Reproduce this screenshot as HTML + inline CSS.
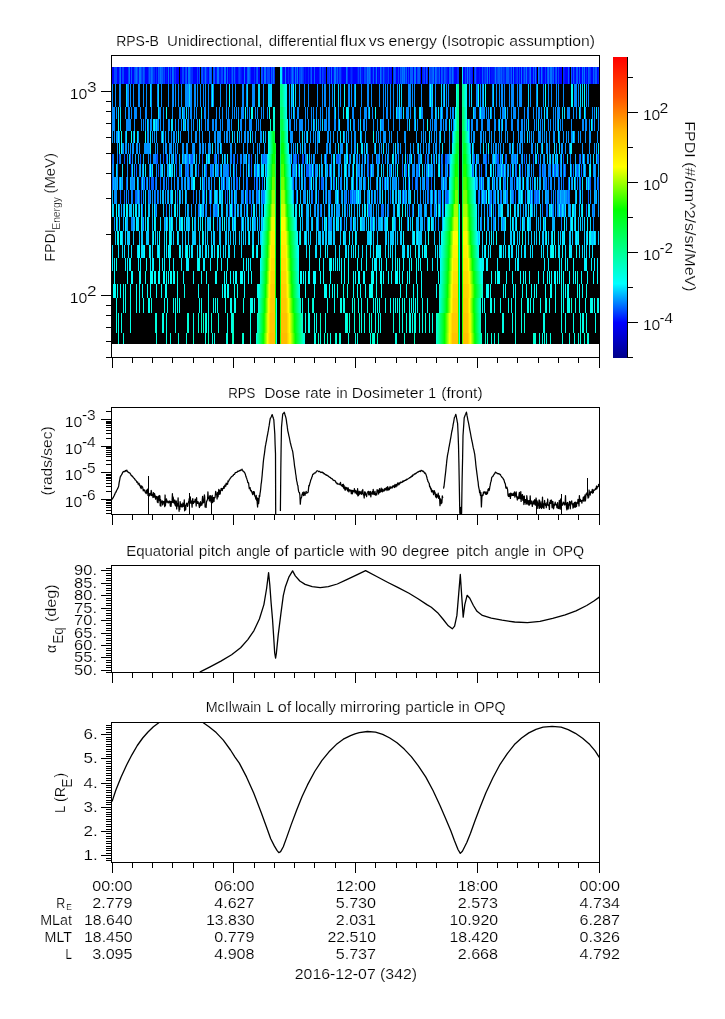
<!DOCTYPE html>
<html><head><meta charset="utf-8"><title>RPS-B</title>
<style>
html,body{margin:0;padding:0;background:#fff;}
svg{display:block;will-change:transform;}
svg{font-family:"Liberation Sans",sans-serif;font-size:14.5px;}
text{fill:#000;stroke:#fff;stroke-width:0.18px;}
</style></head><body>
<svg width="725" height="1019" viewBox="0 0 725 1019">
<rect x="0" y="0" width="725" height="1019" fill="#fff"/>
<rect x="112" y="67" width="487" height="277" fill="#000"/>
<g shape-rendering="crispEdges">
<path fill="#0000ff" d="M112 67h2v17h-2zM117 67h2v17h-2zM121 67h1v17h-1zM124 67h4v17h-4zM130 67h1v17h-1zM132 67h2v17h-2zM145 67h3v17h-3zM155 67h1v17h-1zM157 67h1v17h-1zM165 67h1v17h-1zM167 67h1v17h-1zM169 67h1v17h-1zM171 67h1v17h-1zM176 67h3v17h-3zM180 67h2v17h-2zM184 67h1v17h-1zM187 67h1v17h-1zM193 67h4v17h-4zM198 67h1v17h-1zM208 67h1v17h-1zM215 67h1v17h-1zM223 67h1v17h-1zM226 67h1v17h-1zM228 67h1v17h-1zM230 67h1v17h-1zM236 67h2v17h-2zM242 67h2v17h-2zM245 67h2v17h-2zM251 67h3v17h-3zM255 67h1v17h-1zM258 67h2v17h-2zM263 67h1v17h-1zM270 67h1v17h-1zM283 67h2v17h-2zM286 67h2v17h-2zM289 67h1v17h-1zM294 67h1v17h-1zM298 67h1v17h-1zM304 67h1v17h-1zM306 67h2v17h-2zM309 67h1v17h-1zM312 67h2v17h-2zM315 67h4v17h-4zM321 67h1v17h-1zM330 67h1v17h-1zM332 67h1v17h-1zM342 67h4v17h-4zM348 67h2v17h-2zM353 67h4v17h-4zM363 67h1v17h-1zM371 67h1v17h-1zM374 67h1v17h-1zM377 67h1v17h-1zM379 67h1v17h-1zM389 67h1v17h-1zM391 67h1v17h-1zM396 67h2v17h-2zM399 67h1v17h-1zM407 67h1v17h-1zM409 67h1v17h-1zM413 67h1v17h-1zM416 67h1v17h-1zM420 67h1v17h-1zM425 67h1v17h-1zM440 67h1v17h-1zM448 67h1v17h-1zM454 67h3v17h-3zM463 67h2v17h-2zM472 67h1v17h-1zM477 67h2v17h-2zM480 67h2v17h-2zM488 67h1v17h-1zM490 67h1v17h-1zM512 67h1v17h-1zM514 67h1v17h-1zM518 67h1v17h-1zM520 67h1v17h-1zM522 67h1v17h-1zM531 67h2v17h-2zM536 67h1v17h-1zM540 67h1v17h-1zM543 67h2v17h-2zM546 67h1v17h-1zM554 67h1v17h-1zM557 67h1v17h-1zM559 67h3v17h-3zM565 67h3v17h-3zM569 67h1v17h-1zM572 67h1v17h-1zM575 67h1v17h-1zM578 67h1v17h-1zM580 67h2v17h-2zM585 67h1v17h-1zM587 67h1v17h-1zM591 67h2v17h-2zM597 67h1v17h-1z"/>
<path fill="#0046ff" d="M114 67h3v17h-3zM119 67h1v17h-1zM122 67h2v17h-2zM128 67h1v17h-1zM134 67h1v17h-1zM137 67h1v17h-1zM141 67h1v17h-1zM144 67h1v17h-1zM150 67h1v17h-1zM159 67h1v17h-1zM164 67h1v17h-1zM170 67h1v17h-1zM182 67h2v17h-2zM185 67h1v17h-1zM190 67h1v17h-1zM197 67h1v17h-1zM199 67h1v17h-1zM201 67h1v17h-1zM211 67h1v17h-1zM213 67h1v17h-1zM221 67h2v17h-2zM239 67h1v17h-1zM256 67h1v17h-1zM262 67h1v17h-1zM267 67h3v17h-3zM282 67h1v17h-1zM291 67h1v17h-1zM293 67h1v17h-1zM299 67h2v17h-2zM302 67h1v17h-1zM322 67h1v17h-1zM329 67h1v17h-1zM339 67h2v17h-2zM347 67h1v17h-1zM358 67h1v17h-1zM364 67h2v17h-2zM370 67h1v17h-1zM381 67h1v17h-1zM388 67h1v17h-1zM395 67h1v17h-1zM398 67h1v17h-1zM401 67h1v17h-1zM408 67h1v17h-1zM417 67h1v17h-1zM424 67h1v17h-1zM430 67h2v17h-2zM442 67h1v17h-1zM445 67h1v17h-1zM453 67h1v17h-1zM465 67h1v17h-1zM485 67h1v17h-1zM497 67h1v17h-1zM500 67h1v17h-1zM503 67h1v17h-1zM517 67h1v17h-1zM519 67h1v17h-1zM529 67h1v17h-1zM539 67h1v17h-1zM545 67h1v17h-1zM552 67h1v17h-1zM555 67h1v17h-1zM558 67h1v17h-1zM589 67h1v17h-1z"/>
<path fill="#0074ff" d="M120 67h1v17h-1zM129 67h1v17h-1zM136 67h1v17h-1zM139 67h2v17h-2zM151 67h1v17h-1zM160 67h1v17h-1zM168 67h1v17h-1zM172 67h1v17h-1zM188 67h2v17h-2zM205 67h1v17h-1zM210 67h1v17h-1zM217 67h2v17h-2zM224 67h2v17h-2zM244 67h1v17h-1zM248 67h1v17h-1zM264 67h2v17h-2zM273 67h1v17h-1zM285 67h1v17h-1zM292 67h1v17h-1zM295 67h1v17h-1zM297 67h1v17h-1zM331 67h1v17h-1zM334 67h2v17h-2zM346 67h1v17h-1zM367 67h1v17h-1zM369 67h1v17h-1zM376 67h1v17h-1zM380 67h1v17h-1zM402 67h1v17h-1zM404 67h1v17h-1zM414 67h2v17h-2zM433 67h1v17h-1zM435 67h1v17h-1zM452 67h1v17h-1zM467 67h1v17h-1zM487 67h1v17h-1zM495 67h1v17h-1zM513 67h1v17h-1zM521 67h1v17h-1zM526 67h1v17h-1zM530 67h1v17h-1zM535 67h1v17h-1zM538 67h1v17h-1zM541 67h1v17h-1zM548 67h1v17h-1zM550 67h2v17h-2zM582 67h1v17h-1zM584 67h1v17h-1z"/>
<path fill="#005dff" d="M131 67h1v17h-1zM135 67h1v17h-1zM143 67h1v17h-1zM149 67h1v17h-1zM152 67h1v17h-1zM158 67h1v17h-1zM161 67h2v17h-2zM173 67h1v17h-1zM186 67h1v17h-1zM202 67h1v17h-1zM209 67h1v17h-1zM214 67h1v17h-1zM227 67h1v17h-1zM232 67h1v17h-1zM234 67h1v17h-1zM247 67h1v17h-1zM249 67h1v17h-1zM257 67h1v17h-1zM261 67h1v17h-1zM271 67h1v17h-1zM301 67h1v17h-1zM311 67h1v17h-1zM314 67h1v17h-1zM320 67h1v17h-1zM337 67h1v17h-1zM360 67h1v17h-1zM368 67h1v17h-1zM373 67h1v17h-1zM383 67h1v17h-1zM394 67h1v17h-1zM400 67h1v17h-1zM403 67h1v17h-1zM406 67h1v17h-1zM410 67h3v17h-3zM418 67h2v17h-2zM426 67h1v17h-1zM429 67h1v17h-1zM432 67h1v17h-1zM436 67h1v17h-1zM439 67h1v17h-1zM441 67h1v17h-1zM444 67h1v17h-1zM449 67h2v17h-2zM469 67h1v17h-1zM475 67h1v17h-1zM482 67h1v17h-1zM489 67h1v17h-1zM498 67h2v17h-2zM501 67h1v17h-1zM506 67h3v17h-3zM511 67h1v17h-1zM524 67h1v17h-1zM533 67h1v17h-1zM547 67h1v17h-1zM553 67h1v17h-1zM556 67h1v17h-1zM568 67h1v17h-1zM571 67h1v17h-1zM573 67h1v17h-1zM576 67h2v17h-2zM579 67h1v17h-1zM588 67h1v17h-1zM593 67h1v17h-1zM595 67h2v17h-2zM131 164h1v13h-1zM136 164h1v13h-1zM151 164h1v13h-1zM158 164h1v13h-1zM176 164h1v13h-1zM180 164h1v13h-1zM186 164h1v13h-1zM188 164h1v13h-1zM198 164h1v13h-1zM206 164h1v13h-1zM211 164h1v13h-1zM218 164h1v13h-1zM228 164h1v13h-1zM234 164h1v13h-1zM240 164h1v13h-1zM251 164h1v13h-1zM256 164h1v13h-1zM292 164h1v13h-1zM298 164h1v13h-1zM306 164h3v13h-3zM311 164h1v13h-1zM313 164h1v13h-1zM329 164h1v13h-1zM368 164h1v13h-1zM370 164h1v13h-1zM390 164h1v13h-1zM402 164h1v13h-1zM406 164h1v13h-1zM418 164h1v13h-1zM441 164h1v13h-1zM446 164h1v13h-1zM449 164h1v13h-1zM472 164h1v13h-1zM481 164h1v13h-1zM485 164h1v13h-1zM497 164h1v13h-1zM503 164h1v13h-1zM510 164h1v13h-1zM516 164h1v13h-1zM520 164h1v13h-1zM525 164h1v13h-1zM539 164h1v13h-1zM543 164h1v13h-1zM552 164h1v13h-1zM554 164h2v13h-2zM558 164h1v13h-1zM563 164h1v13h-1zM565 164h1v13h-1zM573 164h1v13h-1zM577 164h1v13h-1zM581 164h1v13h-1zM112 177h1v13h-1zM126 177h1v13h-1zM141 177h1v13h-1zM143 177h1v13h-1zM146 177h1v13h-1zM149 177h1v13h-1zM151 177h3v13h-3zM155 177h1v13h-1zM160 177h1v13h-1zM164 177h1v13h-1zM168 177h1v13h-1zM189 177h1v13h-1zM203 177h1v13h-1zM222 177h1v13h-1zM224 177h1v13h-1zM236 177h2v13h-2zM247 177h1v13h-1zM254 177h1v13h-1zM257 177h1v13h-1zM262 177h1v13h-1zM293 177h1v13h-1zM305 177h1v13h-1zM309 177h1v13h-1zM321 177h2v13h-2zM330 177h1v13h-1zM334 177h1v13h-1zM357 177h1v13h-1zM365 177h1v13h-1zM384 177h1v13h-1zM386 177h1v13h-1zM408 177h1v13h-1zM412 177h1v13h-1zM415 177h1v13h-1zM417 177h1v13h-1zM426 177h2v13h-2zM431 177h1v13h-1zM444 177h1v13h-1zM480 177h1v13h-1zM482 177h1v13h-1zM493 177h1v13h-1zM504 177h1v13h-1zM514 177h1v13h-1zM532 177h1v13h-1zM545 177h1v13h-1zM548 177h1v13h-1zM559 177h1v13h-1zM563 177h1v13h-1zM568 177h1v13h-1zM580 177h1v13h-1zM587 177h1v13h-1zM590 177h1v13h-1zM598 177h1v13h-1z"/>
<path fill="#0017ff" d="M138 67h1v17h-1zM166 67h1v17h-1zM174 67h1v17h-1zM203 67h1v17h-1zM207 67h1v17h-1zM216 67h1v17h-1zM219 67h2v17h-2zM229 67h1v17h-1zM233 67h1v17h-1zM235 67h1v17h-1zM241 67h1v17h-1zM266 67h1v17h-1zM290 67h1v17h-1zM305 67h1v17h-1zM324 67h2v17h-2zM333 67h1v17h-1zM338 67h1v17h-1zM341 67h1v17h-1zM350 67h1v17h-1zM352 67h1v17h-1zM357 67h1v17h-1zM359 67h1v17h-1zM361 67h2v17h-2zM372 67h1v17h-1zM375 67h1v17h-1zM378 67h1v17h-1zM382 67h1v17h-1zM385 67h3v17h-3zM390 67h1v17h-1zM422 67h1v17h-1zM427 67h1v17h-1zM434 67h1v17h-1zM443 67h1v17h-1zM447 67h1v17h-1zM466 67h1v17h-1zM468 67h1v17h-1zM476 67h1v17h-1zM479 67h1v17h-1zM483 67h1v17h-1zM491 67h3v17h-3zM505 67h1v17h-1zM515 67h1v17h-1zM527 67h2v17h-2zM534 67h1v17h-1zM564 67h1v17h-1zM574 67h1v17h-1zM598 67h1v17h-1z"/>
<path fill="#002eff" d="M142 67h1v17h-1zM148 67h1v17h-1zM153 67h2v17h-2zM156 67h1v17h-1zM163 67h1v17h-1zM175 67h1v17h-1zM191 67h2v17h-2zM204 67h1v17h-1zM206 67h1v17h-1zM231 67h1v17h-1zM238 67h1v17h-1zM240 67h1v17h-1zM250 67h1v17h-1zM254 67h1v17h-1zM272 67h1v17h-1zM274 67h1v17h-1zM288 67h1v17h-1zM296 67h1v17h-1zM303 67h1v17h-1zM308 67h1v17h-1zM310 67h1v17h-1zM319 67h1v17h-1zM323 67h1v17h-1zM327 67h2v17h-2zM336 67h1v17h-1zM351 67h1v17h-1zM366 67h1v17h-1zM384 67h1v17h-1zM393 67h1v17h-1zM405 67h1v17h-1zM423 67h1v17h-1zM437 67h2v17h-2zM446 67h1v17h-1zM451 67h1v17h-1zM457 67h2v17h-2zM470 67h2v17h-2zM474 67h1v17h-1zM484 67h1v17h-1zM486 67h1v17h-1zM494 67h1v17h-1zM496 67h1v17h-1zM502 67h1v17h-1zM504 67h1v17h-1zM509 67h2v17h-2zM516 67h1v17h-1zM523 67h1v17h-1zM525 67h1v17h-1zM542 67h1v17h-1zM549 67h1v17h-1zM563 67h1v17h-1zM583 67h1v17h-1zM586 67h1v17h-1zM590 67h1v17h-1zM594 67h1v17h-1z"/>
<path fill="#00e8ff" d="M280 67h2v17h-2zM462 67h1v17h-1zM118 131h1v12h-1zM126 131h1v12h-1zM137 131h1v12h-1zM150 131h1v12h-1zM178 131h1v12h-1zM232 131h1v12h-1zM237 131h1v12h-1zM263 131h1v12h-1zM302 131h1v12h-1zM307 131h1v12h-1zM319 131h1v12h-1zM340 131h1v12h-1zM343 131h1v12h-1zM360 131h1v12h-1zM429 131h1v12h-1zM440 131h1v12h-1zM527 131h1v12h-1zM558 131h1v12h-1zM573 131h1v12h-1zM119 143h1v11h-1zM150 143h1v11h-1zM212 143h1v11h-1zM220 143h1v11h-1zM297 143h1v11h-1zM302 143h1v11h-1zM338 143h1v11h-1zM346 143h1v11h-1zM361 143h2v11h-2zM366 143h1v11h-1zM375 143h1v11h-1zM383 143h1v11h-1zM395 143h1v11h-1zM418 143h1v11h-1zM442 143h1v11h-1zM483 143h1v11h-1zM512 143h1v11h-1zM537 143h1v11h-1zM542 143h1v11h-1zM554 143h1v11h-1zM559 143h1v11h-1zM570 143h2v11h-2zM598 143h1v11h-1zM450 154h1v10h-1zM112 204h1v13h-1zM118 204h1v13h-1zM124 204h1v13h-1zM127 204h1v13h-1zM133 204h1v13h-1zM135 204h2v13h-2zM139 204h1v13h-1zM141 204h1v13h-1zM145 204h1v13h-1zM174 204h1v13h-1zM218 204h1v13h-1zM230 204h1v13h-1zM247 204h1v13h-1zM253 204h2v13h-2zM295 204h2v13h-2zM301 204h1v13h-1zM329 204h1v13h-1zM334 204h1v13h-1zM364 204h2v13h-2zM397 204h2v13h-2zM405 204h1v13h-1zM418 204h1v13h-1zM436 204h1v13h-1zM442 204h1v13h-1zM501 204h2v13h-2zM514 204h1v13h-1zM518 204h1v13h-1zM528 204h1v13h-1zM530 204h2v13h-2zM549 204h1v13h-1zM551 204h1v13h-1zM559 204h1v13h-1zM562 204h1v13h-1zM565 204h1v13h-1zM573 204h1v13h-1zM575 204h1v13h-1zM588 204h2v13h-2zM261 231h1v14h-1z"/>
<path fill="#008bff" d="M112 84h1v23h-1zM115 84h1v23h-1zM119 84h2v23h-2zM127 84h2v23h-2zM130 84h1v23h-1zM133 84h1v23h-1zM138 84h2v23h-2zM143 84h1v23h-1zM146 84h1v23h-1zM151 84h1v23h-1zM157 84h1v23h-1zM161 84h1v23h-1zM168 84h1v23h-1zM172 84h2v23h-2zM175 84h1v23h-1zM178 84h1v23h-1zM181 84h1v23h-1zM185 84h4v23h-4zM190 84h2v23h-2zM194 84h2v23h-2zM197 84h1v23h-1zM200 84h1v23h-1zM203 84h1v23h-1zM205 84h1v23h-1zM208 84h1v23h-1zM211 84h1v23h-1zM213 84h1v23h-1zM220 84h1v23h-1zM226 84h1v23h-1zM232 84h1v23h-1zM235 84h1v23h-1zM242 84h2v23h-2zM246 84h1v23h-1zM252 84h3v23h-3zM263 84h1v23h-1zM289 84h1v23h-1zM292 84h1v23h-1zM299 84h1v23h-1zM304 84h1v23h-1zM308 84h1v23h-1zM317 84h1v23h-1zM322 84h1v23h-1zM324 84h2v23h-2zM329 84h1v23h-1zM332 84h1v23h-1zM340 84h1v23h-1zM348 84h2v23h-2zM351 84h1v23h-1zM354 84h1v23h-1zM361 84h1v23h-1zM367 84h2v23h-2zM371 84h1v23h-1zM379 84h1v23h-1zM383 84h1v23h-1zM385 84h1v23h-1zM387 84h1v23h-1zM390 84h1v23h-1zM393 84h1v23h-1zM397 84h1v23h-1zM408 84h3v23h-3zM412 84h1v23h-1zM414 84h1v23h-1zM421 84h1v23h-1zM429 84h1v23h-1zM431 84h1v23h-1zM435 84h1v23h-1zM443 84h1v23h-1zM446 84h1v23h-1zM448 84h1v23h-1zM469 84h1v23h-1zM476 84h2v23h-2zM480 84h1v23h-1zM482 84h1v23h-1zM492 84h1v23h-1zM496 84h1v23h-1zM499 84h1v23h-1zM501 84h2v23h-2zM504 84h1v23h-1zM509 84h1v23h-1zM511 84h3v23h-3zM517 84h1v23h-1zM519 84h3v23h-3zM530 84h1v23h-1zM536 84h1v23h-1zM543 84h1v23h-1zM548 84h1v23h-1zM551 84h1v23h-1zM556 84h1v23h-1zM558 84h1v23h-1zM563 84h1v23h-1zM574 84h3v23h-3zM578 84h1v23h-1zM586 84h1v23h-1zM588 84h1v23h-1zM112 107h3v12h-3zM116 107h1v12h-1zM125 107h1v12h-1zM128 107h2v12h-2zM131 107h1v12h-1zM134 107h3v12h-3zM140 107h1v12h-1zM145 107h2v12h-2zM151 107h1v12h-1zM159 107h2v12h-2zM163 107h1v12h-1zM172 107h1v12h-1zM179 107h2v12h-2zM183 107h2v12h-2zM188 107h1v12h-1zM190 107h2v12h-2zM194 107h1v12h-1zM196 107h1v12h-1zM204 107h2v12h-2zM208 107h1v12h-1zM216 107h1v12h-1zM219 107h1v12h-1zM222 107h1v12h-1zM226 107h1v12h-1zM228 107h1v12h-1zM232 107h1v12h-1zM234 107h1v12h-1zM236 107h1v12h-1zM238 107h1v12h-1zM241 107h3v12h-3zM247 107h1v12h-1zM249 107h1v12h-1zM255 107h1v12h-1zM257 107h1v12h-1zM261 107h1v12h-1zM263 107h1v12h-1zM267 107h1v12h-1zM289 107h1v12h-1zM291 107h1v12h-1zM294 107h1v12h-1zM297 107h2v12h-2zM305 107h1v12h-1zM307 107h1v12h-1zM311 107h1v12h-1zM313 107h1v12h-1zM316 107h1v12h-1zM320 107h1v12h-1zM322 107h1v12h-1zM326 107h1v12h-1zM328 107h2v12h-2zM334 107h1v12h-1zM338 107h1v12h-1zM352 107h2v12h-2zM360 107h1v12h-1zM364 107h3v12h-3zM368 107h1v12h-1zM372 107h1v12h-1zM383 107h1v12h-1zM386 107h2v12h-2zM390 107h1v12h-1zM393 107h1v12h-1zM397 107h2v12h-2zM400 107h2v12h-2zM406 107h3v12h-3zM410 107h1v12h-1zM415 107h1v12h-1zM421 107h2v12h-2zM431 107h2v12h-2zM436 107h1v12h-1zM440 107h1v12h-1zM442 107h1v12h-1zM446 107h2v12h-2zM450 107h1v12h-1zM452 107h2v12h-2zM474 107h2v12h-2zM479 107h1v12h-1zM481 107h4v12h-4zM486 107h1v12h-1zM488 107h1v12h-1zM491 107h1v12h-1zM494 107h1v12h-1zM500 107h1v12h-1zM502 107h3v12h-3zM507 107h1v12h-1zM511 107h1v12h-1zM513 107h3v12h-3zM518 107h1v12h-1zM524 107h1v12h-1zM527 107h2v12h-2zM533 107h1v12h-1zM536 107h1v12h-1zM538 107h2v12h-2zM541 107h1v12h-1zM546 107h1v12h-1zM553 107h1v12h-1zM555 107h1v12h-1zM557 107h3v12h-3zM567 107h3v12h-3zM573 107h1v12h-1zM576 107h1v12h-1zM580 107h1v12h-1zM585 107h1v12h-1zM592 107h1v12h-1zM594 107h1v12h-1zM598 107h1v12h-1zM112 119h3v12h-3zM126 119h5v12h-5zM134 119h1v12h-1zM141 119h1v12h-1zM143 119h1v12h-1zM145 119h1v12h-1zM148 119h1v12h-1zM150 119h2v12h-2zM155 119h1v12h-1zM157 119h2v12h-2zM160 119h1v12h-1zM163 119h1v12h-1zM168 119h2v12h-2zM175 119h1v12h-1zM178 119h1v12h-1zM181 119h1v12h-1zM184 119h1v12h-1zM187 119h2v12h-2zM191 119h1v12h-1zM193 119h1v12h-1zM197 119h1v12h-1zM201 119h1v12h-1zM205 119h1v12h-1zM207 119h2v12h-2zM212 119h2v12h-2zM215 119h2v12h-2zM220 119h1v12h-1zM222 119h1v12h-1zM227 119h3v12h-3zM231 119h1v12h-1zM240 119h2v12h-2zM245 119h1v12h-1zM249 119h3v12h-3zM256 119h1v12h-1zM258 119h1v12h-1zM260 119h1v12h-1zM289 119h2v12h-2zM294 119h1v12h-1zM296 119h1v12h-1zM299 119h4v12h-4zM305 119h1v12h-1zM308 119h1v12h-1zM311 119h1v12h-1zM314 119h1v12h-1zM318 119h1v12h-1zM320 119h1v12h-1zM324 119h3v12h-3zM328 119h2v12h-2zM334 119h2v12h-2zM338 119h1v12h-1zM347 119h2v12h-2zM353 119h2v12h-2zM358 119h1v12h-1zM363 119h2v12h-2zM366 119h1v12h-1zM373 119h1v12h-1zM377 119h1v12h-1zM381 119h3v12h-3zM388 119h1v12h-1zM393 119h1v12h-1zM399 119h1v12h-1zM407 119h1v12h-1zM414 119h1v12h-1zM417 119h1v12h-1zM423 119h1v12h-1zM430 119h1v12h-1zM432 119h1v12h-1zM434 119h3v12h-3zM440 119h2v12h-2zM443 119h1v12h-1zM445 119h2v12h-2zM451 119h1v12h-1zM453 119h1v12h-1zM467 119h1v12h-1zM469 119h1v12h-1zM471 119h2v12h-2zM476 119h2v12h-2zM481 119h2v12h-2zM487 119h3v12h-3zM494 119h2v12h-2zM498 119h1v12h-1zM501 119h1v12h-1zM505 119h2v12h-2zM511 119h2v12h-2zM517 119h2v12h-2zM521 119h2v12h-2zM524 119h1v12h-1zM526 119h1v12h-1zM534 119h1v12h-1zM536 119h1v12h-1zM540 119h1v12h-1zM542 119h1v12h-1zM548 119h1v12h-1zM550 119h1v12h-1zM553 119h1v12h-1zM555 119h1v12h-1zM557 119h1v12h-1zM560 119h1v12h-1zM562 119h1v12h-1zM571 119h1v12h-1zM582 119h2v12h-2zM585 119h2v12h-2zM589 119h1v12h-1zM592 119h1v12h-1zM594 119h1v12h-1zM598 119h1v12h-1zM112 164h2v13h-2zM117 164h1v13h-1zM127 164h1v13h-1zM134 164h1v13h-1zM139 164h1v13h-1zM142 164h1v13h-1zM149 164h1v13h-1zM156 164h1v13h-1zM160 164h1v13h-1zM164 164h1v13h-1zM168 164h1v13h-1zM179 164h1v13h-1zM185 164h1v13h-1zM187 164h1v13h-1zM190 164h1v13h-1zM196 164h1v13h-1zM202 164h1v13h-1zM205 164h1v13h-1zM210 164h1v13h-1zM212 164h1v13h-1zM216 164h1v13h-1zM220 164h1v13h-1zM223 164h5v13h-5zM236 164h1v13h-1zM246 164h1v13h-1zM249 164h1v13h-1zM255 164h1v13h-1zM259 164h1v13h-1zM266 164h1v13h-1zM294 164h2v13h-2zM302 164h1v13h-1zM310 164h1v13h-1zM315 164h2v13h-2zM326 164h1v13h-1zM331 164h1v13h-1zM339 164h1v13h-1zM341 164h1v13h-1zM348 164h1v13h-1zM352 164h1v13h-1zM357 164h3v13h-3zM362 164h1v13h-1zM364 164h1v13h-1zM367 164h1v13h-1zM372 164h2v13h-2zM389 164h1v13h-1zM395 164h1v13h-1zM405 164h1v13h-1zM409 164h1v13h-1zM412 164h3v13h-3zM416 164h2v13h-2zM424 164h1v13h-1zM426 164h2v13h-2zM429 164h2v13h-2zM432 164h1v13h-1zM434 164h1v13h-1zM442 164h1v13h-1zM445 164h1v13h-1zM476 164h1v13h-1zM479 164h1v13h-1zM495 164h1v13h-1zM498 164h3v13h-3zM502 164h1v13h-1zM505 164h1v13h-1zM507 164h1v13h-1zM515 164h1v13h-1zM522 164h1v13h-1zM529 164h1v13h-1zM531 164h1v13h-1zM533 164h1v13h-1zM540 164h1v13h-1zM542 164h1v13h-1zM544 164h2v13h-2zM548 164h3v13h-3zM560 164h1v13h-1zM571 164h1v13h-1zM576 164h1v13h-1zM578 164h1v13h-1zM583 164h1v13h-1zM585 164h1v13h-1zM593 164h1v13h-1zM595 164h1v13h-1zM114 177h1v13h-1zM116 177h1v13h-1zM119 177h1v13h-1zM121 177h1v13h-1zM131 177h3v13h-3zM138 177h1v13h-1zM144 177h1v13h-1zM156 177h1v13h-1zM163 177h1v13h-1zM166 177h1v13h-1zM171 177h1v13h-1zM174 177h1v13h-1zM177 177h2v13h-2zM181 177h2v13h-2zM184 177h1v13h-1zM187 177h1v13h-1zM204 177h1v13h-1zM206 177h1v13h-1zM208 177h2v13h-2zM211 177h1v13h-1zM214 177h1v13h-1zM226 177h2v13h-2zM231 177h1v13h-1zM233 177h2v13h-2zM243 177h1v13h-1zM246 177h1v13h-1zM256 177h1v13h-1zM295 177h2v13h-2zM299 177h1v13h-1zM310 177h1v13h-1zM315 177h1v13h-1zM319 177h1v13h-1zM323 177h1v13h-1zM325 177h1v13h-1zM338 177h1v13h-1zM340 177h2v13h-2zM347 177h1v13h-1zM353 177h1v13h-1zM360 177h1v13h-1zM370 177h1v13h-1zM376 177h1v13h-1zM379 177h1v13h-1zM382 177h1v13h-1zM388 177h1v13h-1zM393 177h3v13h-3zM398 177h1v13h-1zM403 177h1v13h-1zM416 177h1v13h-1zM422 177h2v13h-2zM428 177h1v13h-1zM441 177h2v13h-2zM446 177h1v13h-1zM477 177h1v13h-1zM489 177h1v13h-1zM497 177h1v13h-1zM505 177h1v13h-1zM510 177h3v13h-3zM516 177h1v13h-1zM518 177h1v13h-1zM522 177h1v13h-1zM526 177h1v13h-1zM528 177h1v13h-1zM544 177h1v13h-1zM546 177h1v13h-1zM550 177h2v13h-2zM554 177h1v13h-1zM558 177h1v13h-1zM561 177h1v13h-1zM571 177h1v13h-1zM575 177h1v13h-1zM577 177h1v13h-1zM579 177h1v13h-1zM589 177h1v13h-1zM594 177h2v13h-2zM597 177h1v13h-1z"/>
<path fill="#00d8ff" d="M126 84h1v23h-1zM150 84h1v23h-1zM158 84h1v23h-1zM189 84h1v23h-1zM247 84h1v23h-1zM258 84h2v23h-2zM268 84h4v23h-4zM291 84h1v23h-1zM295 84h1v23h-1zM334 84h1v23h-1zM338 84h1v23h-1zM355 84h1v23h-1zM399 84h1v23h-1zM401 84h1v23h-1zM432 84h1v23h-1zM441 84h1v23h-1zM444 84h1v23h-1zM471 84h1v23h-1zM483 84h1v23h-1zM493 84h1v23h-1zM528 84h1v23h-1zM537 84h1v23h-1zM580 84h1v23h-1zM582 84h1v23h-1zM129 154h1v10h-1zM169 154h1v10h-1zM173 154h1v10h-1zM182 154h1v10h-1zM185 154h1v10h-1zM189 154h1v10h-1zM194 154h1v10h-1zM209 154h1v10h-1zM222 154h1v10h-1zM224 154h1v10h-1zM246 154h1v10h-1zM261 154h1v10h-1zM291 154h1v10h-1zM309 154h1v10h-1zM325 154h1v10h-1zM333 154h1v10h-1zM344 154h1v10h-1zM346 154h1v10h-1zM353 154h2v10h-2zM365 154h1v10h-1zM393 154h1v10h-1zM421 154h1v10h-1zM431 154h1v10h-1zM436 154h1v10h-1zM439 154h1v10h-1zM472 154h1v10h-1zM476 154h1v10h-1zM493 154h2v10h-2zM517 154h1v10h-1zM535 154h2v10h-2zM547 154h1v10h-1zM550 154h1v10h-1zM553 154h1v10h-1zM555 154h1v10h-1zM561 154h1v10h-1zM567 154h1v10h-1zM593 154h1v10h-1zM596 154h1v10h-1zM119 217h1v14h-1zM137 217h2v14h-2zM145 217h1v14h-1zM148 217h1v14h-1zM155 217h1v14h-1zM160 217h1v14h-1zM172 217h1v14h-1zM186 217h1v14h-1zM188 217h1v14h-1zM198 217h1v14h-1zM200 217h1v14h-1zM210 217h1v14h-1zM235 217h1v14h-1zM248 217h1v14h-1zM257 217h1v14h-1zM261 217h1v14h-1zM296 217h1v14h-1zM300 217h1v14h-1zM312 217h1v14h-1zM317 217h1v14h-1zM333 217h1v14h-1zM338 217h1v14h-1zM340 217h1v14h-1zM361 217h1v14h-1zM368 217h1v14h-1zM370 217h1v14h-1zM381 217h1v14h-1zM385 217h2v14h-2zM393 217h2v14h-2zM401 217h1v14h-1zM432 217h1v14h-1zM495 217h1v14h-1zM501 217h1v14h-1zM510 217h1v14h-1zM580 217h1v14h-1zM584 217h1v14h-1zM590 217h1v14h-1z"/>
<path fill="#00ffff" d="M212 84h1v23h-1zM229 84h1v23h-1zM293 84h1v23h-1zM344 84h1v23h-1zM430 84h1v23h-1zM478 84h1v23h-1zM485 84h1v23h-1zM545 84h1v23h-1zM571 84h2v23h-2zM584 84h1v23h-1zM150 164h1v13h-1zM169 164h2v13h-2zM296 164h1v13h-1zM299 164h1v13h-1zM312 164h1v13h-1zM345 164h1v13h-1zM353 164h1v13h-1zM397 164h1v13h-1zM408 164h1v13h-1zM428 164h1v13h-1zM439 164h1v13h-1zM475 164h1v13h-1zM490 164h1v13h-1zM519 164h1v13h-1zM590 164h1v13h-1zM193 177h2v13h-2zM219 177h1v13h-1zM311 177h1v13h-1zM336 177h1v13h-1zM352 177h1v13h-1zM409 177h1v13h-1zM500 177h1v13h-1zM523 177h1v13h-1zM574 177h1v13h-1zM337 190h1v14h-1zM358 190h1v14h-1zM486 190h1v14h-1zM488 190h1v14h-1zM521 190h1v14h-1zM138 245h2v13h-2zM144 245h1v13h-1zM149 245h1v13h-1zM158 245h1v13h-1zM168 245h1v13h-1zM170 245h1v13h-1zM179 245h1v13h-1zM186 245h1v13h-1zM217 245h2v13h-2zM252 245h2v13h-2zM257 245h1v13h-1zM298 245h1v13h-1zM309 245h1v13h-1zM325 245h1v13h-1zM355 245h1v13h-1zM376 245h1v13h-1zM380 245h1v13h-1zM422 245h1v13h-1zM424 245h1v13h-1zM485 245h1v13h-1zM500 245h1v13h-1zM509 245h1v13h-1zM551 245h1v13h-1zM553 245h1v13h-1zM562 245h1v13h-1zM569 245h1v13h-1zM114 271h1v13h-1zM127 271h1v13h-1zM131 271h2v13h-2zM139 271h2v13h-2zM150 271h1v13h-1zM152 271h1v13h-1zM154 271h1v13h-1zM158 271h2v13h-2zM163 271h2v13h-2zM168 271h1v13h-1zM170 271h1v13h-1zM174 271h1v13h-1zM183 271h1v13h-1zM193 271h1v13h-1zM201 271h1v13h-1zM206 271h1v13h-1zM215 271h1v13h-1zM224 271h1v13h-1zM226 271h1v13h-1zM230 271h1v13h-1zM233 271h1v13h-1zM235 271h2v13h-2zM241 271h2v13h-2zM244 271h1v13h-1zM248 271h1v13h-1zM251 271h1v13h-1zM300 271h2v13h-2zM303 271h1v13h-1zM305 271h1v13h-1zM308 271h2v13h-2zM313 271h3v13h-3zM320 271h1v13h-1zM323 271h1v13h-1zM330 271h1v13h-1zM341 271h1v13h-1zM344 271h1v13h-1zM353 271h1v13h-1zM355 271h1v13h-1zM358 271h2v13h-2zM363 271h2v13h-2zM373 271h1v13h-1zM376 271h1v13h-1zM380 271h1v13h-1zM383 271h1v13h-1zM388 271h1v13h-1zM391 271h1v13h-1zM395 271h3v13h-3zM399 271h1v13h-1zM402 271h1v13h-1zM407 271h1v13h-1zM409 271h1v13h-1zM416 271h1v13h-1zM421 271h1v13h-1zM491 271h1v13h-1zM497 271h3v13h-3zM506 271h1v13h-1zM512 271h1v13h-1zM520 271h1v13h-1zM523 271h1v13h-1zM525 271h1v13h-1zM529 271h1v13h-1zM538 271h1v13h-1zM543 271h1v13h-1zM547 271h1v13h-1zM551 271h1v13h-1zM554 271h2v13h-2zM557 271h1v13h-1zM559 271h1v13h-1zM561 271h1v13h-1zM569 271h1v13h-1zM573 271h1v13h-1zM575 271h1v13h-1zM581 271h1v13h-1zM587 271h1v13h-1zM593 271h1v13h-1zM597 271h1v13h-1z"/>
<path fill="#00ff8a" d="M280 84h1v23h-1zM269 164h1v13h-1zM473 217h1v14h-1z"/>
<path fill="#00ff85" d="M281 84h1v23h-1zM286 154h1v10h-1zM471 190h1v14h-1zM479 284h1v14h-1zM478 313h1v20h-1z"/>
<path fill="#00ff93" d="M282 84h1v23h-1zM283 107h1v12h-1zM285 131h1v12h-1zM289 190h1v14h-1z"/>
<path fill="#00ffb3" d="M283 84h1v23h-1zM284 107h1v12h-1z"/>
<path fill="#00ffd0" d="M284 84h1v23h-1zM470 164h1v13h-1zM261 258h1v13h-1z"/>
<path fill="#00ffeb" d="M285 84h1v23h-1zM267 164h1v13h-1zM187 245h1v13h-1zM415 245h1v13h-1zM426 245h1v13h-1zM552 245h1v13h-1zM576 245h1v13h-1zM125 284h1v14h-1zM184 284h1v14h-1zM234 284h1v14h-1zM237 284h1v14h-1zM257 284h1v14h-1zM337 284h1v14h-1zM343 284h1v14h-1zM347 284h1v14h-1zM372 284h1v14h-1zM376 284h1v14h-1zM490 284h1v14h-1zM561 284h1v14h-1zM567 284h1v14h-1zM577 284h1v14h-1zM586 284h1v14h-1z"/>
<path fill="#00f3ff" d="M286 84h1v23h-1z"/>
<path fill="#00ffe8" d="M456 84h1v23h-1z"/>
<path fill="#00ffa1" d="M457 84h1v23h-1zM464 107h1v12h-1zM266 204h1v13h-1zM263 245h1v13h-1z"/>
<path fill="#00ffa2" d="M458 84h1v23h-1zM301 333h1v11h-1z"/>
<path fill="#00ff9e" d="M462 84h1v23h-1zM294 231h1v14h-1z"/>
<path fill="#00ff9d" d="M463 84h1v23h-1zM454 143h1v11h-1zM443 258h1v13h-1zM477 258h1v13h-1zM300 313h1v20h-1z"/>
<path fill="#00ffc0" d="M464 84h1v23h-1zM454 131h1v12h-1zM472 177h1v13h-1z"/>
<path fill="#00ffe3" d="M465 84h1v23h-1zM269 107h1v12h-1zM273 107h2v12h-2zM298 271h1v13h-1zM481 271h1v13h-1zM151 298h1v15h-1zM225 298h1v15h-1zM243 298h1v15h-1zM341 298h1v15h-1zM344 298h1v15h-1zM367 298h1v15h-1zM379 298h1v15h-1zM404 298h1v15h-1zM521 298h1v15h-1zM528 298h1v15h-1zM545 298h1v15h-1zM568 298h1v15h-1zM590 298h1v15h-1zM594 298h1v15h-1zM597 298h1v15h-1z"/>
<path fill="#00f5ff" d="M466 84h1v23h-1zM477 231h1v14h-1z"/>
<path fill="#00e0ff" d="M118 107h1v12h-1zM120 107h1v12h-1zM158 107h1v12h-1zM182 107h1v12h-1zM186 107h1v12h-1zM201 107h1v12h-1zM293 107h1v12h-1zM335 107h1v12h-1zM343 107h1v12h-1zM348 107h1v12h-1zM369 107h1v12h-1zM396 107h1v12h-1zM399 107h1v12h-1zM403 107h1v12h-1zM414 107h1v12h-1zM419 107h1v12h-1zM435 107h1v12h-1zM438 107h1v12h-1zM441 107h1v12h-1zM473 107h1v12h-1zM490 107h1v12h-1zM505 107h1v12h-1zM544 107h1v12h-1zM547 107h1v12h-1zM562 107h1v12h-1zM564 107h1v12h-1zM579 107h1v12h-1zM596 107h1v12h-1zM120 119h1v12h-1zM147 119h1v12h-1zM153 119h1v12h-1zM156 119h1v12h-1zM171 119h2v12h-2zM183 119h1v12h-1zM185 119h1v12h-1zM238 119h1v12h-1zM313 119h1v12h-1zM316 119h1v12h-1zM322 119h1v12h-1zM339 119h1v12h-1zM350 119h1v12h-1zM360 119h1v12h-1zM380 119h1v12h-1zM409 119h1v12h-1zM415 119h1v12h-1zM454 119h1v12h-1zM499 119h1v12h-1zM502 119h1v12h-1zM528 119h1v12h-1zM538 119h1v12h-1zM544 119h1v12h-1zM558 119h1v12h-1zM116 164h1v13h-1zM122 164h1v13h-1zM132 164h1v13h-1zM143 164h1v13h-1zM145 164h1v13h-1zM152 164h1v13h-1zM162 164h1v13h-1zM172 164h1v13h-1zM174 164h1v13h-1zM181 164h1v13h-1zM195 164h1v13h-1zM204 164h1v13h-1zM215 164h1v13h-1zM221 164h1v13h-1zM233 164h1v13h-1zM248 164h1v13h-1zM254 164h1v13h-1zM257 164h2v13h-2zM261 164h3v13h-3zM265 164h1v13h-1zM301 164h1v13h-1zM319 164h1v13h-1zM325 164h1v13h-1zM330 164h1v13h-1zM334 164h1v13h-1zM344 164h1v13h-1zM356 164h1v13h-1zM371 164h1v13h-1zM381 164h1v13h-1zM387 164h1v13h-1zM391 164h1v13h-1zM404 164h1v13h-1zM419 164h1v13h-1zM422 164h1v13h-1zM438 164h1v13h-1zM493 164h1v13h-1zM501 164h1v13h-1zM504 164h1v13h-1zM512 164h1v13h-1zM553 164h1v13h-1zM570 164h1v13h-1zM575 164h1v13h-1zM579 164h1v13h-1zM584 164h1v13h-1zM589 164h1v13h-1zM120 177h1v13h-1zM137 177h1v13h-1zM142 177h1v13h-1zM200 177h1v13h-1zM202 177h1v13h-1zM223 177h1v13h-1zM229 177h1v13h-1zM264 177h1v13h-1zM316 177h1v13h-1zM331 177h1v13h-1zM344 177h1v13h-1zM346 177h1v13h-1zM356 177h1v13h-1zM368 177h1v13h-1zM377 177h1v13h-1zM380 177h1v13h-1zM385 177h1v13h-1zM387 177h1v13h-1zM405 177h1v13h-1zM443 177h1v13h-1zM476 177h1v13h-1zM481 177h1v13h-1zM488 177h1v13h-1zM492 177h1v13h-1zM507 177h1v13h-1zM517 177h1v13h-1zM519 177h1v13h-1zM527 177h1v13h-1zM534 177h1v13h-1zM537 177h1v13h-1zM569 177h1v13h-1zM582 177h1v13h-1zM586 177h1v13h-1zM588 177h1v13h-1zM145 190h1v14h-1zM171 190h2v14h-2zM175 190h1v14h-1zM179 190h1v14h-1zM185 190h1v14h-1zM203 190h1v14h-1zM206 190h1v14h-1zM210 190h1v14h-1zM215 190h2v14h-2zM219 190h2v14h-2zM222 190h1v14h-1zM229 190h1v14h-1zM234 190h1v14h-1zM245 190h1v14h-1zM259 190h1v14h-1zM297 190h1v14h-1zM307 190h1v14h-1zM316 190h1v14h-1zM356 190h1v14h-1zM369 190h1v14h-1zM382 190h1v14h-1zM392 190h1v14h-1zM398 190h1v14h-1zM400 190h1v14h-1zM403 190h1v14h-1zM410 190h1v14h-1zM431 190h1v14h-1zM435 190h1v14h-1zM442 190h1v14h-1zM475 190h1v14h-1zM482 190h1v14h-1zM498 190h1v14h-1zM505 190h1v14h-1zM510 190h1v14h-1zM519 190h1v14h-1zM528 190h2v14h-2zM531 190h1v14h-1zM539 190h1v14h-1zM576 190h1v14h-1zM580 190h1v14h-1zM112 245h1v13h-1zM118 245h1v13h-1zM122 245h1v13h-1zM124 245h1v13h-1zM128 245h1v13h-1zM131 245h1v13h-1zM137 245h1v13h-1zM141 245h3v13h-3zM150 245h1v13h-1zM152 245h1v13h-1zM157 245h1v13h-1zM159 245h1v13h-1zM164 245h1v13h-1zM166 245h1v13h-1zM169 245h1v13h-1zM180 245h1v13h-1zM182 245h1v13h-1zM185 245h1v13h-1zM189 245h1v13h-1zM191 245h2v13h-2zM197 245h1v13h-1zM199 245h2v13h-2zM202 245h1v13h-1zM205 245h2v13h-2zM208 245h1v13h-1zM211 245h2v13h-2zM214 245h1v13h-1zM220 245h1v13h-1zM223 245h1v13h-1zM225 245h1v13h-1zM228 245h2v13h-2zM234 245h1v13h-1zM241 245h1v13h-1zM256 245h1v13h-1zM306 245h1v13h-1zM315 245h2v13h-2zM320 245h1v13h-1zM327 245h1v13h-1zM335 245h1v13h-1zM339 245h1v13h-1zM345 245h2v13h-2zM348 245h1v13h-1zM351 245h1v13h-1zM353 245h1v13h-1zM358 245h1v13h-1zM362 245h1v13h-1zM366 245h1v13h-1zM370 245h1v13h-1zM373 245h1v13h-1zM377 245h3v13h-3zM385 245h1v13h-1zM388 245h1v13h-1zM390 245h1v13h-1zM392 245h1v13h-1zM395 245h1v13h-1zM402 245h3v13h-3zM407 245h2v13h-2zM410 245h1v13h-1zM418 245h2v13h-2zM425 245h1v13h-1zM435 245h1v13h-1zM437 245h1v13h-1zM439 245h2v13h-2zM482 245h1v13h-1zM484 245h1v13h-1zM488 245h1v13h-1zM490 245h1v13h-1zM499 245h1v13h-1zM501 245h1v13h-1zM503 245h1v13h-1zM505 245h1v13h-1zM508 245h1v13h-1zM511 245h2v13h-2zM516 245h1v13h-1zM518 245h1v13h-1zM521 245h1v13h-1zM524 245h2v13h-2zM530 245h1v13h-1zM532 245h1v13h-1zM541 245h1v13h-1zM543 245h1v13h-1zM547 245h1v13h-1zM550 245h1v13h-1zM555 245h1v13h-1zM558 245h2v13h-2zM565 245h1v13h-1zM570 245h2v13h-2zM579 245h1v13h-1zM582 245h1v13h-1zM584 245h1v13h-1zM586 245h1v13h-1zM589 245h1v13h-1zM592 245h1v13h-1z"/>
<path fill="#00fffb" d="M166 107h1v12h-1zM245 107h1v12h-1zM251 107h2v12h-2zM346 107h2v12h-2zM375 107h1v12h-1zM420 107h1v12h-1zM480 107h1v12h-1zM584 107h1v12h-1zM118 119h1v12h-1zM154 119h1v12h-1zM199 119h1v12h-1zM427 119h1v12h-1zM449 119h1v12h-1zM468 119h1v12h-1zM591 119h1v12h-1zM116 204h1v13h-1zM126 204h1v13h-1zM154 204h1v13h-1zM175 204h1v13h-1zM200 204h1v13h-1zM231 204h1v13h-1zM299 204h1v13h-1zM367 204h1v13h-1zM402 204h1v13h-1zM439 204h1v13h-1zM476 204h1v13h-1zM491 204h1v13h-1zM510 204h1v13h-1zM572 204h1v13h-1zM582 204h1v13h-1zM130 258h1v13h-1zM146 258h1v13h-1zM159 258h1v13h-1zM169 258h1v13h-1zM198 258h1v13h-1zM217 258h1v13h-1zM227 258h1v13h-1zM243 258h1v13h-1zM319 258h1v13h-1zM330 258h2v13h-2zM344 258h1v13h-1zM348 258h1v13h-1zM357 258h1v13h-1zM366 258h1v13h-1zM386 258h1v13h-1zM403 258h1v13h-1zM411 258h1v13h-1zM420 258h1v13h-1zM427 258h1v13h-1zM565 258h1v13h-1zM573 258h1v13h-1zM586 258h1v13h-1zM276 298h1v15h-1zM276 313h1v20h-1zM276 333h1v11h-1z"/>
<path fill="#00ff70" d="M280 107h1v12h-1zM462 119h1v12h-1z"/>
<path fill="#00ff65" d="M281 107h1v12h-1zM463 119h1v12h-1zM452 190h1v14h-1zM446 231h1v14h-1z"/>
<path fill="#00ff6e" d="M282 107h1v12h-1z"/>
<path fill="#00ffd2" d="M285 107h1v12h-1z"/>
<path fill="#00fff0" d="M286 107h1v12h-1z"/>
<path fill="#00f4ff" d="M455 107h1v12h-1z"/>
<path fill="#00ffc5" d="M456 107h1v12h-1zM297 271h1v13h-1z"/>
<path fill="#00ff80" d="M457 107h1v12h-1z"/>
<path fill="#00ff86" d="M458 107h1v12h-1z"/>
<path fill="#00ff83" d="M462 107h1v12h-1zM465 131h1v12h-1zM299 313h1v20h-1z"/>
<path fill="#00ff7c" d="M463 107h1v12h-1z"/>
<path fill="#00ffcc" d="M465 107h1v12h-1zM269 131h1v12h-1z"/>
<path fill="#00fff3" d="M466 107h1v12h-1zM459 204h1v13h-1zM116 217h1v14h-1zM141 217h1v14h-1zM154 217h1v14h-1zM171 217h1v14h-1zM182 217h1v14h-1zM192 217h1v14h-1zM202 217h1v14h-1zM326 217h1v14h-1zM373 217h1v14h-1zM392 217h1v14h-1zM399 217h1v14h-1zM428 217h2v14h-2zM459 217h1v14h-1zM505 217h1v14h-1zM512 217h1v14h-1zM522 217h1v14h-1zM543 217h1v14h-1zM459 231h1v14h-1zM459 245h1v13h-1zM459 258h1v13h-1zM145 271h1v13h-1zM151 271h1v13h-1zM155 271h1v13h-1zM166 271h1v13h-1zM171 271h1v13h-1zM173 271h1v13h-1zM216 271h1v13h-1zM240 271h1v13h-1zM348 271h1v13h-1zM371 271h2v13h-2zM381 271h1v13h-1zM438 271h1v13h-1zM459 271h1v13h-1zM482 271h1v13h-1zM549 271h1v13h-1zM563 271h1v13h-1zM459 284h1v14h-1zM459 298h1v15h-1zM459 313h1v20h-1zM459 333h1v11h-1z"/>
<path fill="#00ffce" d="M270 119h1v12h-1zM273 119h2v12h-2zM469 154h1v10h-1zM475 217h1v14h-1zM442 245h1v13h-1zM312 298h1v15h-1zM354 298h1v15h-1zM571 298h1v15h-1z"/>
<path fill="#00ff55" d="M280 119h1v12h-1zM464 131h1v12h-1zM298 333h1v11h-1z"/>
<path fill="#00ff45" d="M281 119h1v12h-1zM267 217h1v14h-1zM295 298h1v15h-1z"/>
<path fill="#00ff49" d="M282 119h1v12h-1zM473 245h1v13h-1z"/>
<path fill="#00ff74" d="M283 119h1v12h-1zM462 143h1v11h-1zM267 204h1v13h-1z"/>
<path fill="#00ff98" d="M284 119h1v12h-1zM259 313h1v20h-1z"/>
<path fill="#00ffbb" d="M285 119h1v12h-1zM290 190h1v14h-1zM474 204h1v13h-1zM442 258h1v13h-1zM481 284h1v14h-1zM259 298h1v15h-1zM302 333h1v11h-1z"/>
<path fill="#00ffdc" d="M286 119h1v12h-1zM259 284h1v14h-1z"/>
<path fill="#00fffd" d="M287 119h1v12h-1zM441 231h1v14h-1z"/>
<path fill="#00ffed" d="M455 119h1v12h-1zM450 164h1v13h-1z"/>
<path fill="#00ffae" d="M456 119h1v12h-1zM476 245h1v13h-1z"/>
<path fill="#00ff69" d="M457 119h1v12h-1zM280 143h1v11h-1zM263 271h1v13h-1zM478 284h1v14h-1zM298 313h1v20h-1z"/>
<path fill="#00ff73" d="M458 119h1v12h-1zM445 245h1v13h-1z"/>
<path fill="#00ff8b" d="M464 119h1v12h-1zM442 298h1v15h-1zM439 313h1v20h-1z"/>
<path fill="#00ffba" d="M465 119h1v12h-1zM289 177h1v13h-1zM441 284h1v14h-1z"/>
<path fill="#00ffe6" d="M466 119h1v12h-1zM287 131h1v12h-1zM469 143h1v11h-1z"/>
<path fill="#0093ff" d="M112 131h1v12h-1zM114 131h1v12h-1zM116 131h2v12h-2zM119 131h1v12h-1zM125 131h1v12h-1zM133 131h1v12h-1zM138 131h1v12h-1zM147 131h2v12h-2zM152 131h1v12h-1zM154 131h1v12h-1zM156 131h1v12h-1zM161 131h1v12h-1zM163 131h1v12h-1zM165 131h1v12h-1zM168 131h1v12h-1zM171 131h1v12h-1zM173 131h2v12h-2zM176 131h1v12h-1zM180 131h1v12h-1zM188 131h1v12h-1zM191 131h1v12h-1zM195 131h2v12h-2zM199 131h1v12h-1zM202 131h1v12h-1zM209 131h1v12h-1zM214 131h2v12h-2zM217 131h4v12h-4zM224 131h1v12h-1zM226 131h2v12h-2zM229 131h1v12h-1zM234 131h1v12h-1zM239 131h1v12h-1zM241 131h1v12h-1zM244 131h2v12h-2zM247 131h2v12h-2zM252 131h1v12h-1zM255 131h1v12h-1zM260 131h2v12h-2zM265 131h1v12h-1zM290 131h3v12h-3zM299 131h1v12h-1zM304 131h1v12h-1zM306 131h1v12h-1zM310 131h1v12h-1zM313 131h1v12h-1zM315 131h1v12h-1zM317 131h2v12h-2zM327 131h2v12h-2zM330 131h1v12h-1zM333 131h1v12h-1zM337 131h1v12h-1zM344 131h1v12h-1zM346 131h1v12h-1zM348 131h1v12h-1zM351 131h1v12h-1zM354 131h2v12h-2zM361 131h1v12h-1zM365 131h1v12h-1zM376 131h1v12h-1zM378 131h1v12h-1zM380 131h1v12h-1zM383 131h3v12h-3zM389 131h1v12h-1zM391 131h1v12h-1zM397 131h1v12h-1zM404 131h2v12h-2zM416 131h1v12h-1zM421 131h1v12h-1zM423 131h1v12h-1zM425 131h1v12h-1zM431 131h1v12h-1zM434 131h1v12h-1zM436 131h1v12h-1zM439 131h1v12h-1zM444 131h1v12h-1zM449 131h1v12h-1zM452 131h1v12h-1zM469 131h1v12h-1zM471 131h1v12h-1zM473 131h2v12h-2zM480 131h2v12h-2zM483 131h1v12h-1zM485 131h1v12h-1zM489 131h1v12h-1zM491 131h1v12h-1zM494 131h1v12h-1zM499 131h1v12h-1zM501 131h1v12h-1zM505 131h1v12h-1zM507 131h1v12h-1zM513 131h1v12h-1zM518 131h1v12h-1zM520 131h3v12h-3zM524 131h1v12h-1zM529 131h1v12h-1zM531 131h1v12h-1zM533 131h1v12h-1zM538 131h3v12h-3zM542 131h1v12h-1zM544 131h1v12h-1zM546 131h1v12h-1zM549 131h1v12h-1zM553 131h2v12h-2zM559 131h1v12h-1zM563 131h1v12h-1zM566 131h1v12h-1zM568 131h1v12h-1zM571 131h2v12h-2zM574 131h1v12h-1zM578 131h1v12h-1zM580 131h1v12h-1zM585 131h1v12h-1zM589 131h2v12h-2zM597 131h1v12h-1zM117 143h1v11h-1zM122 143h2v11h-2zM125 143h2v11h-2zM128 143h1v11h-1zM130 143h1v11h-1zM132 143h2v11h-2zM136 143h2v11h-2zM139 143h1v11h-1zM144 143h6v11h-6zM155 143h1v11h-1zM157 143h1v11h-1zM163 143h1v11h-1zM165 143h2v11h-2zM169 143h3v11h-3zM173 143h1v11h-1zM175 143h1v11h-1zM177 143h1v11h-1zM182 143h2v11h-2zM186 143h2v11h-2zM192 143h3v11h-3zM199 143h2v11h-2zM202 143h2v11h-2zM205 143h1v11h-1zM208 143h3v11h-3zM215 143h1v11h-1zM217 143h2v11h-2zM221 143h1v11h-1zM230 143h2v11h-2zM235 143h1v11h-1zM243 143h1v11h-1zM247 143h1v11h-1zM253 143h1v11h-1zM257 143h1v11h-1zM259 143h1v11h-1zM264 143h1v11h-1zM291 143h1v11h-1zM293 143h1v11h-1zM295 143h1v11h-1zM300 143h1v11h-1zM304 143h2v11h-2zM309 143h1v11h-1zM315 143h1v11h-1zM317 143h1v11h-1zM326 143h2v11h-2zM329 143h2v11h-2zM335 143h1v11h-1zM340 143h3v11h-3zM347 143h1v11h-1zM351 143h1v11h-1zM354 143h2v11h-2zM364 143h1v11h-1zM367 143h1v11h-1zM374 143h1v11h-1zM379 143h1v11h-1zM381 143h1v11h-1zM386 143h1v11h-1zM388 143h1v11h-1zM393 143h1v11h-1zM397 143h2v11h-2zM400 143h1v11h-1zM405 143h1v11h-1zM410 143h1v11h-1zM413 143h1v11h-1zM417 143h1v11h-1zM420 143h1v11h-1zM423 143h1v11h-1zM426 143h1v11h-1zM428 143h2v11h-2zM433 143h1v11h-1zM435 143h2v11h-2zM439 143h1v11h-1zM449 143h1v11h-1zM470 143h1v11h-1zM473 143h1v11h-1zM480 143h1v11h-1zM486 143h1v11h-1zM491 143h1v11h-1zM493 143h1v11h-1zM495 143h2v11h-2zM498 143h1v11h-1zM500 143h1v11h-1zM503 143h1v11h-1zM509 143h2v11h-2zM513 143h1v11h-1zM517 143h1v11h-1zM519 143h2v11h-2zM522 143h1v11h-1zM531 143h2v11h-2zM535 143h1v11h-1zM541 143h1v11h-1zM546 143h2v11h-2zM549 143h1v11h-1zM556 143h1v11h-1zM561 143h2v11h-2zM565 143h1v11h-1zM569 143h1v11h-1zM582 143h1v11h-1zM589 143h1v11h-1zM594 143h1v11h-1zM596 143h1v11h-1zM114 190h3v14h-3zM126 190h1v14h-1zM131 190h1v14h-1zM137 190h1v14h-1zM143 190h1v14h-1zM148 190h1v14h-1zM150 190h1v14h-1zM152 190h1v14h-1zM154 190h1v14h-1zM157 190h1v14h-1zM165 190h1v14h-1zM167 190h1v14h-1zM170 190h1v14h-1zM180 190h1v14h-1zM186 190h1v14h-1zM196 190h1v14h-1zM199 190h1v14h-1zM202 190h1v14h-1zM217 190h1v14h-1zM221 190h1v14h-1zM235 190h2v14h-2zM241 190h2v14h-2zM252 190h2v14h-2zM256 190h1v14h-1zM258 190h1v14h-1zM263 190h2v14h-2zM293 190h1v14h-1zM303 190h3v14h-3zM311 190h1v14h-1zM315 190h1v14h-1zM328 190h2v14h-2zM338 190h1v14h-1zM341 190h1v14h-1zM344 190h1v14h-1zM346 190h1v14h-1zM354 190h1v14h-1zM359 190h1v14h-1zM367 190h2v14h-2zM375 190h1v14h-1zM379 190h1v14h-1zM388 190h1v14h-1zM399 190h1v14h-1zM405 190h1v14h-1zM417 190h1v14h-1zM420 190h1v14h-1zM423 190h1v14h-1zM425 190h1v14h-1zM427 190h1v14h-1zM430 190h1v14h-1zM432 190h1v14h-1zM436 190h1v14h-1zM438 190h1v14h-1zM445 190h1v14h-1zM448 190h1v14h-1zM479 190h1v14h-1zM484 190h1v14h-1zM491 190h1v14h-1zM494 190h1v14h-1zM497 190h1v14h-1zM501 190h1v14h-1zM507 190h1v14h-1zM511 190h2v14h-2zM518 190h1v14h-1zM536 190h1v14h-1zM542 190h1v14h-1zM546 190h3v14h-3zM553 190h1v14h-1zM557 190h2v14h-2zM561 190h3v14h-3zM565 190h2v14h-2zM568 190h1v14h-1zM582 190h1v14h-1zM590 190h1v14h-1zM595 190h1v14h-1zM598 190h1v14h-1z"/>
<path fill="#00fff7" d="M121 131h1v12h-1zM131 131h1v12h-1zM134 131h1v12h-1zM145 131h1v12h-1zM162 131h1v12h-1zM250 131h1v12h-1zM373 131h1v12h-1zM121 143h1v11h-1zM268 143h1v11h-1zM357 143h1v11h-1zM472 143h1v11h-1zM488 143h1v11h-1zM470 154h1v10h-1zM471 164h1v13h-1zM298 258h1v13h-1zM480 258h1v13h-1zM113 284h3v14h-3zM117 284h1v14h-1zM120 284h1v14h-1zM123 284h1v14h-1zM130 284h1v14h-1zM136 284h1v14h-1zM139 284h1v14h-1zM142 284h1v14h-1zM147 284h1v14h-1zM150 284h1v14h-1zM156 284h1v14h-1zM161 284h1v14h-1zM165 284h2v14h-2zM177 284h1v14h-1zM198 284h1v14h-1zM208 284h1v14h-1zM222 284h1v14h-1zM224 284h2v14h-2zM227 284h2v14h-2zM244 284h1v14h-1zM258 284h1v14h-1zM305 284h1v14h-1zM314 284h1v14h-1zM324 284h3v14h-3zM329 284h1v14h-1zM332 284h1v14h-1zM334 284h1v14h-1zM353 284h1v14h-1zM357 284h1v14h-1zM360 284h1v14h-1zM365 284h1v14h-1zM369 284h3v14h-3zM381 284h1v14h-1zM400 284h1v14h-1zM406 284h1v14h-1zM413 284h1v14h-1zM417 284h1v14h-1zM421 284h1v14h-1zM436 284h1v14h-1zM486 284h3v14h-3zM503 284h1v14h-1zM505 284h1v14h-1zM513 284h1v14h-1zM515 284h1v14h-1zM522 284h1v14h-1zM526 284h1v14h-1zM531 284h1v14h-1zM534 284h1v14h-1zM536 284h1v14h-1zM545 284h1v14h-1zM550 284h2v14h-2zM555 284h1v14h-1zM563 284h1v14h-1zM565 284h1v14h-1zM568 284h1v14h-1zM579 284h1v14h-1zM582 284h1v14h-1z"/>
<path fill="#00fff6" d="M268 131h1v12h-1zM295 217h1v14h-1zM440 258h1v13h-1z"/>
<path fill="#00ff9f" d="M270 131h1v12h-1zM471 177h1v13h-1z"/>
<path fill="#00ff71" d="M271 131h1v12h-1zM266 217h1v14h-1zM477 271h1v13h-1zM262 284h1v14h-1zM295 284h1v14h-1zM478 333h1v11h-1z"/>
<path fill="#00ff3d" d="M272 131h1v12h-1zM458 143h1v11h-1zM469 190h1v14h-1zM442 313h1v20h-1z"/>
<path fill="#00ff2a" d="M273 131h1v12h-1z"/>
<path fill="#00ff3e" d="M274 131h1v12h-1z"/>
<path fill="#00ff75" d="M280 131h1v12h-1zM449 204h1v13h-1z"/>
<path fill="#00ff26" d="M281 131h2v12h-2zM275 143h1v11h-1zM275 231h1v14h-1zM448 231h1v14h-1zM472 245h1v13h-1zM292 271h1v13h-1z"/>
<path fill="#00ff36" d="M283 131h1v12h-1zM454 164h1v13h-1zM468 177h1v13h-1zM462 217h1v14h-1zM475 271h1v13h-1z"/>
<path fill="#00ff67" d="M284 131h1v12h-1zM466 143h1v11h-1zM453 164h1v13h-1zM472 217h1v14h-1zM294 271h1v13h-1z"/>
<path fill="#00ffbd" d="M286 131h1v12h-1zM263 231h1v14h-1zM437 333h1v11h-1z"/>
<path fill="#00ffea" d="M453 131h1v12h-1zM474 190h1v14h-1z"/>
<path fill="#00ff94" d="M455 131h1v12h-1zM467 143h1v11h-1z"/>
<path fill="#00ff63" d="M456 131h1v12h-1zM458 164h1v13h-1z"/>
<path fill="#00ff48" d="M457 131h1v12h-1zM284 143h1v11h-1z"/>
<path fill="#00ff58" d="M458 131h1v12h-1zM285 154h1v10h-1zM275 164h1v13h-1zM458 177h1v13h-1zM471 204h1v13h-1z"/>
<path fill="#00ff54" d="M462 131h1v12h-1zM446 245h1v13h-1zM476 271h1v13h-1zM262 298h1v15h-1zM441 333h1v11h-1z"/>
<path fill="#00ff44" d="M463 131h1v12h-1zM269 190h1v14h-1zM275 190h1v14h-1z"/>
<path fill="#00ffac" d="M466 131h1v12h-1zM474 217h1v14h-1zM442 271h1v13h-1z"/>
<path fill="#00ffd3" d="M467 131h1v12h-1zM300 298h1v15h-1z"/>
<path fill="#00fff9" d="M468 131h1v12h-1zM288 143h1v11h-1z"/>
<path fill="#00ffcd" d="M269 143h1v11h-1zM265 204h1v13h-1zM296 245h1v13h-1zM298 284h1v14h-1z"/>
<path fill="#00ffa3" d="M270 143h1v11h-1zM444 231h1v14h-1zM438 333h1v11h-1z"/>
<path fill="#00ff76" d="M271 143h1v11h-1zM268 190h1v14h-1z"/>
<path fill="#00ff47" d="M272 143h1v11h-1zM293 271h1v13h-1zM476 313h1v20h-1z"/>
<path fill="#00ff11" d="M273 143h1v11h-1zM469 204h1v13h-1zM280 258h1v13h-1zM292 284h1v14h-1z"/>
<path fill="#00ff0c" d="M274 143h1v11h-1zM463 154h2v10h-2zM462 271h1v13h-1z"/>
<path fill="#00ff08" d="M281 143h2v11h-2zM275 271h1v13h-1z"/>
<path fill="#00ff12" d="M283 143h1v11h-1z"/>
<path fill="#00ff78" d="M285 143h1v11h-1zM270 154h1v10h-1z"/>
<path fill="#00ffa4" d="M286 143h1v11h-1zM468 154h1v10h-1zM479 313h1v20h-1z"/>
<path fill="#00ffcf" d="M287 143h1v11h-1zM477 245h1v13h-1z"/>
<path fill="#00fff4" d="M452 143h1v11h-1zM449 190h1v14h-1z"/>
<path fill="#00ffc9" d="M453 143h1v11h-1zM267 177h1v13h-1zM473 190h1v14h-1zM292 204h1v13h-1z"/>
<path fill="#00ff6f" d="M455 143h1v11h-1zM291 217h1v14h-1zM444 271h1v13h-1zM299 333h1v11h-1zM440 333h1v11h-1z"/>
<path fill="#00ff3b" d="M456 143h1v11h-1zM449 217h1v14h-1zM261 333h1v11h-1zM297 333h1v11h-1z"/>
<path fill="#00ff29" d="M457 143h1v11h-1zM451 204h1v13h-1zM289 217h1v14h-1zM266 245h1v13h-1z"/>
<path fill="#00ff25" d="M463 143h2v11h-2zM466 164h1v13h-1zM280 231h1v14h-1z"/>
<path fill="#00ff35" d="M465 143h1v11h-1zM288 204h1v13h-1zM470 204h1v13h-1zM262 313h1v20h-1z"/>
<path fill="#00ffbe" d="M468 143h1v11h-1zM295 231h1v14h-1zM437 313h1v20h-1z"/>
<path fill="#0055ff" d="M112 154h1v10h-1zM119 154h1v10h-1zM124 154h1v10h-1zM130 154h1v10h-1zM140 154h1v10h-1zM156 154h2v10h-2zM163 154h1v10h-1zM166 154h1v10h-1zM176 154h1v10h-1zM188 154h1v10h-1zM191 154h2v10h-2zM202 154h1v10h-1zM214 154h1v10h-1zM218 154h1v10h-1zM233 154h1v10h-1zM237 154h1v10h-1zM251 154h1v10h-1zM262 154h1v10h-1zM293 154h1v10h-1zM296 154h1v10h-1zM298 154h1v10h-1zM302 154h2v10h-2zM326 154h1v10h-1zM337 154h2v10h-2zM349 154h1v10h-1zM368 154h1v10h-1zM377 154h1v10h-1zM407 154h1v10h-1zM425 154h1v10h-1zM433 154h1v10h-1zM442 154h1v10h-1zM445 154h2v10h-2zM474 154h1v10h-1zM486 154h1v10h-1zM497 154h2v10h-2zM501 154h1v10h-1zM505 154h1v10h-1zM516 154h1v10h-1zM524 154h1v10h-1zM533 154h1v10h-1zM538 154h1v10h-1zM563 154h1v10h-1zM579 154h1v10h-1zM582 154h1v10h-1zM597 154h1v10h-1z"/>
<path fill="#0083ff" d="M113 154h1v10h-1zM117 154h1v10h-1zM120 154h1v10h-1zM127 154h1v10h-1zM132 154h1v10h-1zM148 154h1v10h-1zM150 154h1v10h-1zM153 154h3v10h-3zM160 154h1v10h-1zM172 154h1v10h-1zM175 154h1v10h-1zM183 154h2v10h-2zM187 154h1v10h-1zM190 154h1v10h-1zM207 154h1v10h-1zM215 154h1v10h-1zM225 154h1v10h-1zM230 154h2v10h-2zM234 154h1v10h-1zM240 154h2v10h-2zM243 154h1v10h-1zM245 154h1v10h-1zM248 154h2v10h-2zM263 154h4v10h-4zM290 154h1v10h-1zM294 154h2v10h-2zM305 154h2v10h-2zM311 154h1v10h-1zM314 154h1v10h-1zM324 154h1v10h-1zM331 154h1v10h-1zM336 154h1v10h-1zM339 154h2v10h-2zM345 154h1v10h-1zM356 154h2v10h-2zM359 154h1v10h-1zM362 154h1v10h-1zM364 154h1v10h-1zM367 154h1v10h-1zM372 154h1v10h-1zM378 154h1v10h-1zM382 154h1v10h-1zM385 154h1v10h-1zM388 154h1v10h-1zM396 154h1v10h-1zM398 154h1v10h-1zM402 154h1v10h-1zM410 154h1v10h-1zM414 154h1v10h-1zM418 154h2v10h-2zM427 154h2v10h-2zM438 154h1v10h-1zM441 154h1v10h-1zM447 154h2v10h-2zM473 154h1v10h-1zM477 154h1v10h-1zM483 154h3v10h-3zM488 154h1v10h-1zM492 154h1v10h-1zM496 154h1v10h-1zM506 154h1v10h-1zM511 154h1v10h-1zM513 154h2v10h-2zM521 154h1v10h-1zM526 154h1v10h-1zM543 154h1v10h-1zM552 154h1v10h-1zM556 154h1v10h-1zM560 154h1v10h-1zM570 154h1v10h-1zM580 154h1v10h-1zM584 154h1v10h-1zM588 154h1v10h-1zM598 154h1v10h-1zM114 217h1v14h-1zM117 217h1v14h-1zM131 217h2v14h-2zM142 217h1v14h-1zM165 217h1v14h-1zM217 217h1v14h-1zM220 217h1v14h-1zM233 217h1v14h-1zM241 217h1v14h-1zM255 217h1v14h-1zM259 217h1v14h-1zM318 217h1v14h-1zM322 217h1v14h-1zM328 217h1v14h-1zM330 217h2v14h-2zM341 217h1v14h-1zM344 217h1v14h-1zM350 217h2v14h-2zM371 217h2v14h-2zM376 217h1v14h-1zM384 217h1v14h-1zM395 217h1v14h-1zM407 217h1v14h-1zM424 217h1v14h-1zM427 217h1v14h-1zM435 217h1v14h-1zM438 217h1v14h-1zM481 217h1v14h-1zM487 217h1v14h-1zM493 217h2v14h-2zM498 217h1v14h-1zM502 217h1v14h-1zM520 217h1v14h-1zM544 217h1v14h-1zM561 217h1v14h-1zM593 217h1v14h-1z"/>
<path fill="#00aaff" d="M135 154h1v10h-1zM138 154h1v10h-1zM143 154h1v10h-1zM167 154h1v10h-1zM171 154h1v10h-1zM179 154h1v10h-1zM186 154h1v10h-1zM193 154h1v10h-1zM196 154h1v10h-1zM199 154h1v10h-1zM216 154h1v10h-1zM244 154h1v10h-1zM255 154h1v10h-1zM257 154h1v10h-1zM313 154h1v10h-1zM321 154h1v10h-1zM350 154h1v10h-1zM376 154h1v10h-1zM379 154h1v10h-1zM387 154h1v10h-1zM395 154h1v10h-1zM409 154h1v10h-1zM420 154h1v10h-1zM434 154h1v10h-1zM449 154h1v10h-1zM478 154h1v10h-1zM495 154h1v10h-1zM500 154h1v10h-1zM512 154h1v10h-1zM515 154h1v10h-1zM522 154h1v10h-1zM529 154h1v10h-1zM540 154h1v10h-1zM544 154h1v10h-1zM549 154h1v10h-1zM575 154h1v10h-1zM587 154h1v10h-1zM590 154h1v10h-1z"/>
<path fill="#00f7ff" d="M206 154h1v10h-1zM208 154h1v10h-1zM227 154h1v10h-1zM307 154h1v10h-1zM334 154h1v10h-1zM347 154h1v10h-1zM392 154h1v10h-1zM405 154h1v10h-1zM411 154h1v10h-1zM502 154h1v10h-1zM557 154h1v10h-1zM583 154h1v10h-1zM125 217h1v14h-1zM136 217h1v14h-1zM147 217h1v14h-1zM166 217h1v14h-1zM169 217h1v14h-1zM179 217h1v14h-1zM181 217h1v14h-1zM213 217h1v14h-1zM222 217h1v14h-1zM224 217h1v14h-1zM232 217h1v14h-1zM234 217h1v14h-1zM242 217h1v14h-1zM252 217h1v14h-1zM324 217h1v14h-1zM336 217h1v14h-1zM353 217h1v14h-1zM360 217h1v14h-1zM387 217h1v14h-1zM408 217h1v14h-1zM412 217h1v14h-1zM431 217h1v14h-1zM484 217h1v14h-1zM516 217h1v14h-1zM527 217h2v14h-2zM545 217h1v14h-1zM564 217h1v14h-1zM571 217h2v14h-2zM575 217h1v14h-1zM587 217h1v14h-1zM117 231h1v14h-1zM120 231h2v14h-2zM159 231h1v14h-1zM166 231h1v14h-1zM169 231h1v14h-1zM177 231h1v14h-1zM305 231h1v14h-1zM343 231h1v14h-1zM349 231h1v14h-1zM370 231h1v14h-1zM403 231h1v14h-1zM413 231h2v14h-2zM417 231h1v14h-1zM479 231h1v14h-1zM486 231h1v14h-1zM491 231h1v14h-1zM514 231h1v14h-1zM539 231h1v14h-1zM552 231h1v14h-1zM554 231h1v14h-1zM562 231h1v14h-1zM564 231h1v14h-1zM576 231h1v14h-1zM578 231h1v14h-1zM587 231h1v14h-1zM589 231h1v14h-1zM594 231h1v14h-1z"/>
<path fill="#00e9ff" d="M267 154h1v10h-1z"/>
<path fill="#00ffdb" d="M268 154h1v10h-1zM475 204h1v13h-1z"/>
<path fill="#00ffaa" d="M269 154h1v10h-1zM262 258h1v13h-1z"/>
<path fill="#00ff42" d="M271 154h1v10h-1zM280 190h1v14h-1zM458 204h1v13h-1z"/>
<path fill="#00ff07" d="M272 154h1v10h-1zM280 271h1v13h-1zM444 313h1v20h-1z"/>
<path fill="#15ff00" d="M273 154h2v10h-2z"/>
<path fill="#00ff62" d="M275 154h1v10h-1zM286 164h1v13h-1zM470 190h1v14h-1zM296 298h1v15h-1z"/>
<path fill="#00ff60" d="M280 154h1v10h-1z"/>
<path fill="#1cff00" d="M281 154h3v10h-3zM291 284h1v14h-1z"/>
<path fill="#00ff28" d="M284 154h1v10h-1zM264 284h1v14h-1zM294 298h1v15h-1z"/>
<path fill="#00ffb0" d="M287 154h1v10h-1zM443 245h1v13h-1z"/>
<path fill="#00ffda" d="M288 154h1v10h-1zM450 177h1v13h-1zM479 258h1v13h-1z"/>
<path fill="#00f6ff" d="M289 154h1v10h-1z"/>
<path fill="#00ffe1" d="M451 154h1v10h-1zM473 177h1v13h-1zM291 190h1v14h-1zM444 217h1v14h-1z"/>
<path fill="#00ffb5" d="M452 154h1v10h-1z"/>
<path fill="#00ff87" d="M453 154h1v10h-1zM295 271h1v13h-1z"/>
<path fill="#00ff57" d="M454 154h1v10h-1zM270 164h1v13h-1zM462 177h1v13h-1zM441 313h1v20h-1z"/>
<path fill="#00ff21" d="M455 154h1v10h-1zM271 164h1v13h-1z"/>
<path fill="#00ff10" d="M456 154h2v10h-2zM467 177h1v13h-1zM270 190h1v14h-1zM447 271h1v13h-1zM446 298h1v15h-1z"/>
<path fill="#00ff6c" d="M458 154h1v10h-1zM265 231h1v14h-1z"/>
<path fill="#00ff6b" d="M462 154h1v10h-1zM288 190h1v14h-1zM474 245h1v13h-1z"/>
<path fill="#00ff16" d="M465 154h1v10h-1zM286 190h1v14h-1zM269 204h1v13h-1z"/>
<path fill="#00ff4a" d="M466 154h1v10h-1z"/>
<path fill="#00ff79" d="M467 154h1v10h-1z"/>
<path fill="#00b2ff" d="M140 164h1v13h-1zM161 164h1v13h-1zM167 164h1v13h-1zM171 164h1v13h-1zM191 164h2v13h-2zM213 164h1v13h-1zM217 164h1v13h-1zM230 164h1v13h-1zM243 164h1v13h-1zM293 164h1v13h-1zM304 164h1v13h-1zM309 164h1v13h-1zM317 164h1v13h-1zM321 164h2v13h-2zM327 164h1v13h-1zM333 164h1v13h-1zM338 164h1v13h-1zM346 164h1v13h-1zM349 164h1v13h-1zM361 164h1v13h-1zM377 164h2v13h-2zM383 164h1v13h-1zM393 164h1v13h-1zM431 164h1v13h-1zM447 164h1v13h-1zM473 164h1v13h-1zM486 164h1v13h-1zM491 164h1v13h-1zM508 164h1v13h-1zM513 164h1v13h-1zM527 164h2v13h-2zM556 164h2v13h-2zM561 164h1v13h-1zM564 164h1v13h-1zM594 164h1v13h-1zM598 164h1v13h-1zM113 177h1v13h-1zM115 177h1v13h-1zM117 177h1v13h-1zM122 177h1v13h-1zM127 177h1v13h-1zM130 177h1v13h-1zM134 177h1v13h-1zM147 177h1v13h-1zM185 177h1v13h-1zM188 177h1v13h-1zM191 177h2v13h-2zM221 177h1v13h-1zM228 177h1v13h-1zM239 177h1v13h-1zM259 177h1v13h-1zM292 177h1v13h-1zM301 177h2v13h-2zM304 177h1v13h-1zM313 177h1v13h-1zM326 177h1v13h-1zM333 177h1v13h-1zM351 177h1v13h-1zM359 177h1v13h-1zM361 177h1v13h-1zM363 177h2v13h-2zM390 177h1v13h-1zM392 177h1v13h-1zM396 177h1v13h-1zM420 177h1v13h-1zM424 177h1v13h-1zM434 177h1v13h-1zM445 177h1v13h-1zM475 177h1v13h-1zM479 177h1v13h-1zM483 177h1v13h-1zM487 177h1v13h-1zM494 177h1v13h-1zM496 177h1v13h-1zM499 177h1v13h-1zM503 177h1v13h-1zM520 177h1v13h-1zM530 177h1v13h-1zM535 177h1v13h-1zM539 177h2v13h-2zM543 177h1v13h-1zM572 177h1v13h-1zM123 217h1v14h-1zM126 217h2v14h-2zM133 217h2v14h-2zM143 217h1v14h-1zM152 217h1v14h-1zM164 217h1v14h-1zM167 217h1v14h-1zM170 217h1v14h-1zM176 217h1v14h-1zM180 217h1v14h-1zM184 217h1v14h-1zM187 217h1v14h-1zM189 217h1v14h-1zM194 217h2v14h-2zM205 217h1v14h-1zM207 217h3v14h-3zM219 217h1v14h-1zM226 217h1v14h-1zM228 217h2v14h-2zM243 217h1v14h-1zM245 217h1v14h-1zM247 217h1v14h-1zM250 217h1v14h-1zM253 217h2v14h-2zM262 217h1v14h-1zM302 217h1v14h-1zM306 217h3v14h-3zM311 217h1v14h-1zM316 217h1v14h-1zM325 217h1v14h-1zM329 217h1v14h-1zM334 217h1v14h-1zM337 217h1v14h-1zM346 217h1v14h-1zM354 217h2v14h-2zM357 217h1v14h-1zM362 217h3v14h-3zM366 217h1v14h-1zM374 217h1v14h-1zM378 217h3v14h-3zM382 217h1v14h-1zM410 217h1v14h-1zM416 217h3v14h-3zM420 217h3v14h-3zM433 217h1v14h-1zM442 217h1v14h-1zM478 217h1v14h-1zM480 217h1v14h-1zM488 217h1v14h-1zM491 217h1v14h-1zM503 217h2v14h-2zM513 217h1v14h-1zM515 217h1v14h-1zM523 217h2v14h-2zM529 217h2v14h-2zM536 217h1v14h-1zM538 217h1v14h-1zM540 217h1v14h-1zM552 217h3v14h-3zM566 217h1v14h-1zM570 217h1v14h-1zM574 217h1v14h-1zM578 217h1v14h-1zM582 217h1v14h-1z"/>
<path fill="#00ffbc" d="M268 164h1v13h-1zM447 204h1v13h-1zM478 258h1v13h-1z"/>
<path fill="#34ff00" d="M272 164h1v13h-1zM450 231h1v14h-1zM275 333h1v11h-1z"/>
<path fill="#41ff00" d="M273 164h2v13h-2zM266 284h1v14h-1z"/>
<path fill="#00ff56" d="M280 164h1v13h-1zM261 313h1v20h-1z"/>
<path fill="#49ff00" d="M281 164h3v13h-3zM472 298h1v15h-1z"/>
<path fill="#00ff04" d="M284 164h1v13h-1zM288 217h1v14h-1z"/>
<path fill="#00ff34" d="M285 164h1v13h-1zM270 177h1v13h-1zM447 245h1v13h-1z"/>
<path fill="#00ff8d" d="M287 164h1v13h-1zM294 245h1v13h-1zM475 245h1v13h-1zM443 271h1v13h-1z"/>
<path fill="#00ffb7" d="M288 164h1v13h-1zM301 313h1v20h-1z"/>
<path fill="#00ffe0" d="M289 164h1v13h-1z"/>
<path fill="#00edff" d="M290 164h1v13h-1zM291 177h1v13h-1z"/>
<path fill="#00ffc2" d="M451 164h1v13h-1zM201 313h1v20h-1zM203 313h1v20h-1zM233 313h1v20h-1zM320 313h1v20h-1zM347 313h1v20h-1zM359 313h1v20h-1z"/>
<path fill="#00ff95" d="M452 164h1v13h-1zM264 231h1v14h-1zM261 284h1v14h-1z"/>
<path fill="#05ff00" d="M455 164h1v13h-1zM275 284h1v14h-1z"/>
<path fill="#10ff00" d="M456 164h2v13h-2zM474 284h1v14h-1zM462 298h1v15h-1z"/>
<path fill="#00ff61" d="M462 164h1v13h-1z"/>
<path fill="#17ff00" d="M463 164h3v13h-3zM280 298h1v15h-1z"/>
<path fill="#00ff53" d="M467 164h1v13h-1z"/>
<path fill="#00ff7e" d="M468 164h1v13h-1zM452 177h1v13h-1zM293 231h1v14h-1zM444 258h1v13h-1zM476 258h1v13h-1zM443 284h1v14h-1z"/>
<path fill="#00ffa8" d="M469 164h1v13h-1z"/>
<path fill="#00fff8" d="M266 177h1v13h-1zM264 204h1v13h-1z"/>
<path fill="#00ff99" d="M268 177h1v13h-1zM448 204h1v13h-1zM260 298h1v15h-1zM478 298h1v15h-1zM258 333h1v11h-1z"/>
<path fill="#00ff68" d="M269 177h1v13h-1zM287 177h1v13h-1z"/>
<path fill="#04ff00" d="M271 177h1v13h-1z"/>
<path fill="#6eff00" d="M272 177h3v13h-3zM466 190h1v14h-1z"/>
<path fill="#00ff4e" d="M275 177h1v13h-1zM444 298h1v15h-1zM297 313h1v20h-1z"/>
<path fill="#00ff4c" d="M280 177h1v13h-1zM462 190h1v14h-1zM290 217h1v14h-1zM292 245h1v13h-1z"/>
<path fill="#75ff00" d="M281 177h3v13h-3z"/>
<path fill="#3cff00" d="M284 177h1v13h-1zM287 217h1v14h-1z"/>
<path fill="#00ff0f" d="M285 177h1v13h-1z"/>
<path fill="#00ff3c" d="M286 177h1v13h-1zM291 231h1v14h-1z"/>
<path fill="#00ff91" d="M288 177h1v13h-1z"/>
<path fill="#00ffe2" d="M290 177h1v13h-1zM476 231h1v14h-1z"/>
<path fill="#00f0ff" d="M449 177h1v13h-1zM112 258h1v13h-1zM114 258h1v13h-1zM125 258h1v13h-1zM127 258h1v13h-1zM129 258h1v13h-1zM138 258h1v13h-1zM140 258h1v13h-1zM150 258h1v13h-1zM152 258h2v13h-2zM162 258h1v13h-1zM164 258h1v13h-1zM173 258h1v13h-1zM181 258h1v13h-1zM186 258h3v13h-3zM197 258h1v13h-1zM203 258h2v13h-2zM210 258h1v13h-1zM221 258h1v13h-1zM246 258h1v13h-1zM248 258h1v13h-1zM250 258h1v13h-1zM309 258h1v13h-1zM323 258h1v13h-1zM329 258h1v13h-1zM333 258h1v13h-1zM335 258h1v13h-1zM337 258h1v13h-1zM339 258h1v13h-1zM341 258h1v13h-1zM361 258h1v13h-1zM372 258h1v13h-1zM374 258h3v13h-3zM379 258h1v13h-1zM381 258h1v13h-1zM392 258h1v13h-1zM395 258h1v13h-1zM399 258h1v13h-1zM409 258h1v13h-1zM418 258h1v13h-1zM432 258h1v13h-1zM437 258h1v13h-1zM481 258h1v13h-1zM483 258h1v13h-1zM486 258h2v13h-2zM497 258h1v13h-1zM509 258h1v13h-1zM515 258h1v13h-1zM517 258h2v13h-2zM544 258h1v13h-1zM548 258h1v13h-1zM559 258h1v13h-1zM561 258h1v13h-1zM567 258h1v13h-1zM584 258h2v13h-2zM591 258h1v13h-1zM594 258h1v13h-1zM597 258h1v13h-1z"/>
<path fill="#00ffad" d="M451 177h1v13h-1zM295 245h1v13h-1zM480 333h1v11h-1z"/>
<path fill="#00ff4d" d="M453 177h1v13h-1zM458 190h1v14h-1zM263 284h1v14h-1zM477 284h1v14h-1z"/>
<path fill="#00ff19" d="M454 177h1v13h-1zM268 217h1v14h-1zM474 298h1v15h-1z"/>
<path fill="#40ff00" d="M455 177h3v13h-3z"/>
<path fill="#47ff00" d="M463 177h3v13h-3zM453 204h1v13h-1z"/>
<path fill="#2fff00" d="M466 177h1v13h-1zM267 258h1v13h-1zM458 333h1v11h-1z"/>
<path fill="#00ff5b" d="M469 177h1v13h-1zM289 204h1v13h-1zM260 333h1v11h-1z"/>
<path fill="#00ff7d" d="M470 177h1v13h-1z"/>
<path fill="#00fbff" d="M474 177h1v13h-1z"/>
<path fill="#00b9ff" d="M112 190h1v14h-1zM138 190h1v14h-1zM160 190h1v14h-1zM162 190h2v14h-2zM168 190h1v14h-1zM182 190h1v14h-1zM214 190h1v14h-1zM231 190h1v14h-1zM261 190h1v14h-1zM300 190h1v14h-1zM309 190h1v14h-1zM323 190h1v14h-1zM326 190h1v14h-1zM335 190h2v14h-2zM342 190h1v14h-1zM352 190h1v14h-1zM357 190h1v14h-1zM360 190h1v14h-1zM364 190h1v14h-1zM371 190h1v14h-1zM374 190h1v14h-1zM380 190h1v14h-1zM385 190h1v14h-1zM393 190h1v14h-1zM395 190h2v14h-2zM406 190h1v14h-1zM408 190h2v14h-2zM414 190h1v14h-1zM483 190h1v14h-1zM489 190h1v14h-1zM495 190h1v14h-1zM503 190h2v14h-2zM520 190h1v14h-1zM522 190h1v14h-1zM527 190h1v14h-1zM545 190h1v14h-1zM560 190h1v14h-1zM564 190h1v14h-1zM575 190h1v14h-1zM594 190h1v14h-1zM596 190h1v14h-1z"/>
<path fill="#0064ff" d="M120 190h1v14h-1zM124 190h1v14h-1zM128 190h1v14h-1zM132 190h1v14h-1zM135 190h2v14h-2zM139 190h1v14h-1zM141 190h1v14h-1zM149 190h1v14h-1zM155 190h1v14h-1zM158 190h1v14h-1zM177 190h1v14h-1zM193 190h1v14h-1zM204 190h1v14h-1zM209 190h1v14h-1zM211 190h1v14h-1zM225 190h1v14h-1zM227 190h1v14h-1zM232 190h1v14h-1zM243 190h1v14h-1zM246 190h2v14h-2zM249 190h2v14h-2zM257 190h1v14h-1zM262 190h1v14h-1zM296 190h1v14h-1zM312 190h1v14h-1zM318 190h1v14h-1zM325 190h1v14h-1zM330 190h1v14h-1zM345 190h1v14h-1zM348 190h1v14h-1zM350 190h2v14h-2zM353 190h1v14h-1zM355 190h1v14h-1zM372 190h1v14h-1zM377 190h1v14h-1zM390 190h1v14h-1zM402 190h1v14h-1zM404 190h1v14h-1zM428 190h1v14h-1zM434 190h1v14h-1zM439 190h2v14h-2zM443 190h1v14h-1zM446 190h2v14h-2zM478 190h1v14h-1zM481 190h1v14h-1zM485 190h1v14h-1zM490 190h1v14h-1zM493 190h1v14h-1zM500 190h1v14h-1zM506 190h1v14h-1zM513 190h1v14h-1zM515 190h1v14h-1zM525 190h1v14h-1zM530 190h1v14h-1zM532 190h1v14h-1zM534 190h2v14h-2zM537 190h2v14h-2zM551 190h1v14h-1zM555 190h1v14h-1zM559 190h1v14h-1zM567 190h1v14h-1zM569 190h1v14h-1zM579 190h1v14h-1zM588 190h1v14h-1z"/>
<path fill="#00f9ff" d="M265 190h1v14h-1z"/>
<path fill="#00ffd4" d="M266 190h1v14h-1zM303 333h1v11h-1z"/>
<path fill="#00ffa6" d="M267 190h1v14h-1zM296 271h1v13h-1z"/>
<path fill="#45ff00" d="M271 190h1v14h-1z"/>
<path fill="#9cff00" d="M272 190h3v14h-3zM291 313h1v20h-1z"/>
<path fill="#a3ff00" d="M281 190h3v14h-3z"/>
<path fill="#81ff00" d="M284 190h1v14h-1zM265 333h1v11h-1z"/>
<path fill="#29ff00" d="M285 190h1v14h-1z"/>
<path fill="#00ff41" d="M287 190h1v14h-1zM462 204h1v13h-1z"/>
<path fill="#00efff" d="M292 190h1v14h-1z"/>
<path fill="#00ffc6" d="M450 190h1v14h-1zM264 217h1v14h-1z"/>
<path fill="#00ff96" d="M451 190h1v14h-1z"/>
<path fill="#00ff31" d="M453 190h1v14h-1zM476 284h1v14h-1zM263 298h1v15h-1z"/>
<path fill="#0aff00" d="M454 190h1v14h-1z"/>
<path fill="#71ff00" d="M455 190h3v14h-3zM451 231h1v14h-1z"/>
<path fill="#78ff00" d="M463 190h3v14h-3z"/>
<path fill="#1dff00" d="M467 190h1v14h-1zM447 298h1v15h-1z"/>
<path fill="#00ff17" d="M468 190h1v14h-1zM462 258h1v13h-1z"/>
<path fill="#00ffa7" d="M472 190h1v14h-1z"/>
<path fill="#00c1ff" d="M113 204h1v13h-1zM129 204h3v13h-3zM148 204h2v13h-2zM152 204h1v13h-1zM163 204h1v13h-1zM169 204h1v13h-1zM177 204h1v13h-1zM179 204h1v13h-1zM187 204h1v13h-1zM201 204h1v13h-1zM203 204h1v13h-1zM221 204h2v13h-2zM226 204h1v13h-1zM235 204h1v13h-1zM237 204h1v13h-1zM241 204h1v13h-1zM259 204h1v13h-1zM262 204h1v13h-1zM307 204h2v13h-2zM310 204h1v13h-1zM342 204h1v13h-1zM344 204h1v13h-1zM349 204h1v13h-1zM351 204h1v13h-1zM357 204h1v13h-1zM359 204h1v13h-1zM362 204h1v13h-1zM394 204h1v13h-1zM399 204h1v13h-1zM413 204h1v13h-1zM425 204h1v13h-1zM438 204h1v13h-1zM498 204h1v13h-1zM500 204h1v13h-1zM507 204h2v13h-2zM515 204h1v13h-1zM517 204h1v13h-1zM525 204h1v13h-1zM534 204h1v13h-1zM540 204h1v13h-1zM550 204h1v13h-1zM563 204h1v13h-1zM569 204h1v13h-1zM579 204h1v13h-1zM581 204h1v13h-1z"/>
<path fill="#009bff" d="M119 204h1v13h-1zM121 204h1v13h-1zM123 204h1v13h-1zM138 204h1v13h-1zM156 204h1v13h-1zM171 204h1v13h-1zM185 204h1v13h-1zM188 204h1v13h-1zM191 204h1v13h-1zM195 204h1v13h-1zM199 204h1v13h-1zM202 204h1v13h-1zM206 204h1v13h-1zM213 204h2v13h-2zM217 204h1v13h-1zM227 204h1v13h-1zM238 204h1v13h-1zM240 204h1v13h-1zM244 204h1v13h-1zM256 204h1v13h-1zM261 204h1v13h-1zM302 204h1v13h-1zM306 204h1v13h-1zM314 204h2v13h-2zM317 204h2v13h-2zM321 204h1v13h-1zM324 204h1v13h-1zM328 204h1v13h-1zM331 204h2v13h-2zM336 204h4v13h-4zM345 204h1v13h-1zM354 204h1v13h-1zM370 204h2v13h-2zM373 204h1v13h-1zM376 204h1v13h-1zM378 204h1v13h-1zM385 204h1v13h-1zM387 204h1v13h-1zM393 204h1v13h-1zM407 204h1v13h-1zM420 204h2v13h-2zM424 204h1v13h-1zM426 204h1v13h-1zM431 204h1v13h-1zM434 204h1v13h-1zM478 204h1v13h-1zM481 204h1v13h-1zM484 204h1v13h-1zM487 204h1v13h-1zM493 204h1v13h-1zM499 204h1v13h-1zM520 204h1v13h-1zM523 204h1v13h-1zM526 204h1v13h-1zM532 204h1v13h-1zM536 204h1v13h-1zM552 204h1v13h-1zM555 204h1v13h-1zM558 204h1v13h-1zM561 204h1v13h-1zM568 204h1v13h-1zM570 204h1v13h-1zM574 204h1v13h-1zM592 204h1v13h-1zM594 204h1v13h-1zM598 204h1v13h-1z"/>
<path fill="#006cff" d="M142 204h1v13h-1zM155 204h1v13h-1zM166 204h1v13h-1zM198 204h1v13h-1zM205 204h1v13h-1zM210 204h1v13h-1zM215 204h2v13h-2zM229 204h1v13h-1zM232 204h1v13h-1zM234 204h1v13h-1zM246 204h1v13h-1zM251 204h1v13h-1zM320 204h1v13h-1zM347 204h1v13h-1zM368 204h2v13h-2zM381 204h3v13h-3zM388 204h1v13h-1zM409 204h1v13h-1zM412 204h1v13h-1zM419 204h1v13h-1zM430 204h1v13h-1zM435 204h1v13h-1zM440 204h1v13h-1zM443 204h1v13h-1zM489 204h2v13h-2zM495 204h1v13h-1zM542 204h1v13h-1zM546 204h2v13h-2zM553 204h1v13h-1zM557 204h1v13h-1zM560 204h1v13h-1zM564 204h1v13h-1zM586 204h1v13h-1zM593 204h1v13h-1z"/>
<path fill="#00ff46" d="M268 204h1v13h-1zM447 231h1v14h-1z"/>
<path fill="#32ff00" d="M270 204h1v13h-1zM462 333h1v11h-1z"/>
<path fill="#92ff00" d="M271 204h1v13h-1zM290 298h1v15h-1zM447 333h1v11h-1z"/>
<path fill="#c8ff00" d="M272 204h3v13h-3zM269 258h1v13h-1z"/>
<path fill="#00ff3a" d="M275 204h1v13h-1zM475 298h1v15h-1z"/>
<path fill="#00ff39" d="M280 204h1v13h-1zM292 258h1v13h-1zM442 333h1v11h-1z"/>
<path fill="#cfff00" d="M281 204h4v13h-4zM287 258h1v13h-1z"/>
<path fill="#7dff00" d="M285 204h1v13h-1zM270 217h1v14h-1z"/>
<path fill="#30ff00" d="M286 204h1v13h-1z"/>
<path fill="#00ff0e" d="M287 204h1v13h-1zM266 258h1v13h-1z"/>
<path fill="#00ff81" d="M290 204h1v13h-1z"/>
<path fill="#00ffa5" d="M291 204h1v13h-1zM438 313h1v20h-1z"/>
<path fill="#00ffec" d="M293 204h1v13h-1zM297 245h1v13h-1zM441 245h1v13h-1zM299 284h1v14h-1z"/>
<path fill="#00faff" d="M445 204h1v13h-1z"/>
<path fill="#00ffdf" d="M446 204h1v13h-1zM442 231h1v14h-1zM177 271h1v13h-1zM495 271h1v13h-1zM577 271h1v13h-1zM118 333h1v11h-1zM123 333h1v11h-1zM156 333h1v11h-1zM166 333h1v11h-1zM170 333h1v11h-1zM178 333h1v11h-1zM186 333h1v11h-1zM205 333h1v11h-1zM212 333h1v11h-1zM214 333h1v11h-1zM226 333h2v11h-2zM243 333h1v11h-1zM250 333h1v11h-1zM304 333h1v11h-1zM314 333h2v11h-2zM320 333h1v11h-1zM330 333h1v11h-1zM336 333h1v11h-1zM340 333h1v11h-1zM348 333h1v11h-1zM355 333h1v11h-1zM357 333h1v11h-1zM370 333h1v11h-1zM374 333h1v11h-1zM395 333h2v11h-2zM491 333h1v11h-1zM494 333h1v11h-1zM515 333h1v11h-1zM535 333h1v11h-1zM539 333h1v11h-1zM542 333h1v11h-1zM544 333h1v11h-1zM546 333h1v11h-1zM550 333h1v11h-1zM562 333h1v11h-1zM569 333h1v11h-1zM574 333h1v11h-1zM578 333h1v11h-1zM580 333h1v11h-1zM587 333h2v11h-2z"/>
<path fill="#00ff50" d="M450 204h1v13h-1zM445 271h1v13h-1z"/>
<path fill="#00ff02" d="M452 204h1v13h-1zM265 284h1v14h-1zM458 284h1v14h-1zM444 333h1v11h-1z"/>
<path fill="#9eff00" d="M454 204h1v13h-1zM467 217h1v14h-1zM269 245h1v13h-1z"/>
<path fill="#a2ff00" d="M455 204h3v13h-3zM453 217h1v14h-1z"/>
<path fill="#a9ff00" d="M463 204h4v13h-4z"/>
<path fill="#6aff00" d="M467 204h1v13h-1zM266 298h1v15h-1z"/>
<path fill="#23ff00" d="M468 204h1v13h-1zM268 231h1v14h-1z"/>
<path fill="#00ff7a" d="M472 204h1v13h-1zM264 245h1v13h-1zM294 258h1v13h-1zM477 298h1v15h-1zM259 333h1v11h-1z"/>
<path fill="#00ff9b" d="M473 204h1v13h-1zM474 231h1v14h-1zM298 298h1v15h-1z"/>
<path fill="#00ffef" d="M263 217h1v14h-1zM476 217h1v14h-1zM118 231h1v14h-1zM153 231h1v14h-1zM170 231h1v14h-1zM202 231h1v14h-1zM249 231h1v14h-1zM300 231h1v14h-1zM355 231h1v14h-1zM428 231h1v14h-1zM496 231h1v14h-1zM522 231h1v14h-1zM546 231h1v14h-1zM590 231h1v14h-1zM478 245h1v13h-1zM116 298h1v15h-1zM123 298h1v15h-1zM125 298h1v15h-1zM130 298h1v15h-1zM136 298h1v15h-1zM139 298h1v15h-1zM143 298h1v15h-1zM148 298h2v15h-2zM164 298h1v15h-1zM167 298h1v15h-1zM173 298h1v15h-1zM175 298h1v15h-1zM177 298h1v15h-1zM179 298h1v15h-1zM199 298h1v15h-1zM201 298h1v15h-1zM208 298h1v15h-1zM213 298h1v15h-1zM215 298h1v15h-1zM217 298h1v15h-1zM230 298h2v15h-2zM234 298h2v15h-2zM250 298h3v15h-3zM254 298h1v15h-1zM302 298h1v15h-1zM308 298h1v15h-1zM313 298h1v15h-1zM327 298h1v15h-1zM334 298h1v15h-1zM340 298h1v15h-1zM343 298h1v15h-1zM352 298h1v15h-1zM358 298h1v15h-1zM361 298h1v15h-1zM373 298h1v15h-1zM375 298h1v15h-1zM377 298h1v15h-1zM385 298h1v15h-1zM390 298h1v15h-1zM393 298h1v15h-1zM395 298h1v15h-1zM397 298h1v15h-1zM399 298h1v15h-1zM402 298h1v15h-1zM409 298h1v15h-1zM411 298h1v15h-1zM413 298h1v15h-1zM415 298h1v15h-1zM417 298h1v15h-1zM422 298h1v15h-1zM427 298h1v15h-1zM482 298h1v15h-1zM484 298h1v15h-1zM490 298h2v15h-2zM494 298h1v15h-1zM500 298h1v15h-1zM508 298h1v15h-1zM511 298h1v15h-1zM515 298h1v15h-1zM527 298h1v15h-1zM530 298h1v15h-1zM533 298h1v15h-1zM540 298h1v15h-1zM546 298h1v15h-1zM549 298h1v15h-1zM555 298h1v15h-1zM561 298h1v15h-1zM563 298h1v15h-1zM567 298h1v15h-1zM569 298h1v15h-1zM575 298h1v15h-1zM579 298h1v15h-1zM585 298h1v15h-1zM591 298h2v15h-2zM598 298h1v15h-1z"/>
<path fill="#00ff9c" d="M265 217h1v14h-1zM442 284h1v14h-1z"/>
<path fill="#27ff00" d="M269 217h1v14h-1z"/>
<path fill="#dfff00" d="M271 217h1v14h-1z"/>
<path fill="#f4ff00" d="M272 217h3v14h-3zM270 245h1v13h-1zM286 245h1v13h-1zM451 284h1v14h-1z"/>
<path fill="#00ff30" d="M275 217h1v14h-1zM446 271h1v13h-1z"/>
<path fill="#00ff2f" d="M280 217h1v14h-1zM445 298h1v15h-1z"/>
<path fill="#fcff00" d="M281 217h4v14h-4z"/>
<path fill="#ceff00" d="M285 217h1v14h-1zM268 284h1v14h-1zM450 298h1v15h-1z"/>
<path fill="#82ff00" d="M286 217h1v14h-1z"/>
<path fill="#00ff92" d="M292 217h1v14h-1zM444 245h1v13h-1z"/>
<path fill="#00ffb4" d="M293 217h1v14h-1z"/>
<path fill="#00ffd5" d="M294 217h1v14h-1z"/>
<path fill="#00fdff" d="M443 217h1v14h-1z"/>
<path fill="#00ffc1" d="M445 217h1v14h-1zM443 231h1v14h-1z"/>
<path fill="#00ffa0" d="M446 217h1v14h-1zM480 284h1v14h-1z"/>
<path fill="#00ff7f" d="M447 217h1v14h-1zM297 298h1v15h-1z"/>
<path fill="#00ff5d" d="M448 217h1v14h-1zM292 231h1v14h-1z"/>
<path fill="#00ff18" d="M450 217h1v14h-1zM267 231h1v14h-1zM291 258h1v13h-1zM458 258h1v13h-1zM474 271h1v13h-1zM295 313h1v20h-1z"/>
<path fill="#16ff00" d="M451 217h1v14h-1zM474 333h1v11h-1z"/>
<path fill="#59ff00" d="M452 217h1v14h-1zM449 271h1v13h-1zM265 313h1v20h-1z"/>
<path fill="#d3ff00" d="M454 217h4v14h-4zM286 231h1v14h-1z"/>
<path fill="#00ff38" d="M458 217h1v14h-1z"/>
<path fill="#daff00" d="M463 217h4v14h-4z"/>
<path fill="#53ff00" d="M468 217h1v14h-1z"/>
<path fill="#0dff00" d="M469 217h1v14h-1zM458 298h1v15h-1z"/>
<path fill="#00ff1e" d="M470 217h1v14h-1zM275 245h1v13h-1zM443 333h1v11h-1z"/>
<path fill="#00ff43" d="M471 217h1v14h-1zM266 231h1v14h-1zM264 271h1v13h-1z"/>
<path fill="#00c9ff" d="M115 231h1v14h-1zM122 231h1v14h-1zM125 231h1v14h-1zM127 231h3v14h-3zM133 231h1v14h-1zM139 231h1v14h-1zM141 231h2v14h-2zM146 231h3v14h-3zM152 231h1v14h-1zM155 231h1v14h-1zM157 231h1v14h-1zM164 231h1v14h-1zM171 231h1v14h-1zM173 231h1v14h-1zM178 231h1v14h-1zM182 231h1v14h-1zM185 231h1v14h-1zM188 231h1v14h-1zM192 231h4v14h-4zM199 231h1v14h-1zM203 231h1v14h-1zM205 231h1v14h-1zM207 231h1v14h-1zM211 231h1v14h-1zM213 231h2v14h-2zM219 231h2v14h-2zM225 231h2v14h-2zM228 231h1v14h-1zM230 231h1v14h-1zM233 231h1v14h-1zM235 231h1v14h-1zM239 231h1v14h-1zM241 231h1v14h-1zM243 231h1v14h-1zM245 231h1v14h-1zM248 231h1v14h-1zM252 231h2v14h-2zM258 231h1v14h-1zM260 231h1v14h-1zM299 231h1v14h-1zM304 231h1v14h-1zM306 231h1v14h-1zM308 231h1v14h-1zM310 231h1v14h-1zM316 231h1v14h-1zM318 231h3v14h-3zM322 231h2v14h-2zM325 231h2v14h-2zM328 231h4v14h-4zM333 231h2v14h-2zM340 231h1v14h-1zM344 231h2v14h-2zM352 231h1v14h-1zM356 231h1v14h-1zM367 231h3v14h-3zM371 231h1v14h-1zM373 231h1v14h-1zM377 231h1v14h-1zM385 231h2v14h-2zM388 231h1v14h-1zM390 231h4v14h-4zM395 231h1v14h-1zM397 231h1v14h-1zM400 231h2v14h-2zM412 231h1v14h-1zM416 231h1v14h-1zM418 231h4v14h-4zM425 231h1v14h-1zM434 231h1v14h-1zM439 231h1v14h-1zM478 231h1v14h-1zM482 231h1v14h-1zM489 231h1v14h-1zM493 231h1v14h-1zM504 231h1v14h-1zM510 231h2v14h-2zM513 231h1v14h-1zM517 231h1v14h-1zM519 231h1v14h-1zM525 231h1v14h-1zM528 231h1v14h-1zM531 231h1v14h-1zM534 231h1v14h-1zM536 231h1v14h-1zM542 231h2v14h-2zM545 231h1v14h-1zM548 231h1v14h-1zM551 231h1v14h-1zM558 231h1v14h-1zM560 231h1v14h-1zM563 231h1v14h-1zM569 231h2v14h-2zM572 231h1v14h-1zM575 231h1v14h-1zM577 231h1v14h-1zM584 231h1v14h-1zM586 231h1v14h-1zM591 231h3v14h-3zM595 231h1v14h-1zM598 231h1v14h-1z"/>
<path fill="#00ffe4" d="M262 231h1v14h-1zM439 298h1v15h-1z"/>
<path fill="#73ff00" d="M269 231h1v14h-1z"/>
<path fill="#c9ff00" d="M270 231h1v14h-1z"/>
<path fill="#fff300" d="M271 231h4v14h-4zM285 231h1v14h-1zM453 245h5v13h-5z"/>
<path fill="#fff100" d="M281 231h4v14h-4zM463 245h4v13h-4z"/>
<path fill="#8eff00" d="M287 231h1v14h-1zM288 258h1v13h-1z"/>
<path fill="#4dff00" d="M288 231h1v14h-1z"/>
<path fill="#0eff00" d="M289 231h1v14h-1zM473 298h1v15h-1z"/>
<path fill="#00ff1a" d="M290 231h1v14h-1zM262 333h1v11h-1z"/>
<path fill="#00ffdd" d="M296 231h1v14h-1zM258 298h1v15h-1z"/>
<path fill="#00fffc" d="M297 231h1v14h-1z"/>
<path fill="#00ff84" d="M445 231h1v14h-1zM263 258h1v13h-1z"/>
<path fill="#00ff05" d="M449 231h1v14h-1zM291 271h1v13h-1z"/>
<path fill="#b3ff00" d="M452 231h1v14h-1z"/>
<path fill="#ffff00" d="M453 231h1v14h-1zM468 258h1v13h-1z"/>
<path fill="#fffd00" d="M454 231h4v14h-4zM288 298h1v15h-1zM289 313h1v20h-1z"/>
<path fill="#00ff2d" d="M458 231h1v14h-1zM471 231h1v14h-1z"/>
<path fill="#00ff2b" d="M462 231h1v14h-1zM291 245h1v13h-1z"/>
<path fill="#fffa00" d="M463 231h4v14h-4zM451 298h1v15h-1z"/>
<path fill="#d4ff00" d="M467 231h1v14h-1z"/>
<path fill="#85ff00" d="M468 231h1v14h-1z"/>
<path fill="#3bff00" d="M469 231h1v14h-1zM470 245h1v13h-1zM449 258h1v13h-1zM448 284h1v14h-1z"/>
<path fill="#00ff06" d="M470 231h1v14h-1zM474 313h1v20h-1zM295 333h1v11h-1z"/>
<path fill="#00ff52" d="M472 231h1v14h-1zM265 245h1v13h-1zM294 284h1v14h-1zM477 333h1v11h-1z"/>
<path fill="#00ff77" d="M473 231h1v14h-1zM261 298h1v15h-1zM260 313h1v20h-1z"/>
<path fill="#00ffbf" d="M475 231h1v14h-1z"/>
<path fill="#00ffee" d="M261 245h1v13h-1z"/>
<path fill="#00ffc8" d="M262 245h1v13h-1z"/>
<path fill="#02ff00" d="M267 245h1v13h-1z"/>
<path fill="#4eff00" d="M268 245h1v13h-1z"/>
<path fill="#ffea00" d="M271 245h4v13h-4zM453 258h5v13h-5zM269 298h1v15h-1zM288 313h1v20h-1z"/>
<path fill="#00ff1c" d="M280 245h1v13h-1zM265 271h1v13h-1z"/>
<path fill="#ffe800" d="M281 245h5v13h-5zM270 271h1v13h-1zM287 298h1v15h-1z"/>
<path fill="#aeff00" d="M287 245h1v13h-1z"/>
<path fill="#6dff00" d="M288 245h1v13h-1z"/>
<path fill="#2eff00" d="M289 245h1v13h-1zM473 313h1v20h-1z"/>
<path fill="#00ff09" d="M290 245h1v13h-1z"/>
<path fill="#00ff6d" d="M293 245h1v13h-1zM443 298h1v15h-1z"/>
<path fill="#00ff13" d="M448 245h1v13h-1zM275 258h1v13h-1zM263 313h1v20h-1z"/>
<path fill="#19ff00" d="M449 245h1v13h-1z"/>
<path fill="#55ff00" d="M450 245h1v13h-1z"/>
<path fill="#94ff00" d="M451 245h1v13h-1z"/>
<path fill="#d7ff00" d="M452 245h1v13h-1z"/>
<path fill="#00ff24" d="M458 245h1v13h-1z"/>
<path fill="#00ff22" d="M462 245h1v13h-1zM443 313h1v20h-1z"/>
<path fill="#fff800" d="M467 245h1v13h-1zM286 258h1v13h-1zM287 284h1v14h-1z"/>
<path fill="#c4ff00" d="M468 245h1v13h-1z"/>
<path fill="#7eff00" d="M469 245h1v13h-1z"/>
<path fill="#00ff03" d="M471 245h1v13h-1z"/>
<path fill="#00ffe7" d="M116 258h1v13h-1zM199 258h1v13h-1zM397 258h1v13h-1zM416 258h1v13h-1zM482 258h1v13h-1zM440 271h1v13h-1zM116 313h1v20h-1zM118 313h1v20h-1zM121 313h1v20h-1zM130 313h1v20h-1zM156 313h1v20h-1zM162 313h2v20h-2zM166 313h1v20h-1zM175 313h1v20h-1zM193 313h1v20h-1zM206 313h1v20h-1zM208 313h1v20h-1zM227 313h1v20h-1zM231 313h2v20h-2zM250 313h1v20h-1zM305 313h1v20h-1zM308 313h2v20h-2zM314 313h1v20h-1zM316 313h1v20h-1zM325 313h1v20h-1zM345 313h2v20h-2zM361 313h1v20h-1zM364 313h1v20h-1zM375 313h1v20h-1zM378 313h1v20h-1zM380 313h1v20h-1zM402 313h1v20h-1zM409 313h2v20h-2zM412 313h1v20h-1zM415 313h1v20h-1zM419 313h1v20h-1zM422 313h1v20h-1zM429 313h1v20h-1zM432 313h1v20h-1zM485 313h1v20h-1zM502 313h2v20h-2zM512 313h1v20h-1zM521 313h1v20h-1zM543 313h2v20h-2zM561 313h1v20h-1zM565 313h1v20h-1zM573 313h1v20h-1zM580 313h1v20h-1zM582 313h2v20h-2zM586 313h1v20h-1zM595 313h1v20h-1z"/>
<path fill="#00fff5" d="M260 258h1v13h-1z"/>
<path fill="#00ff5e" d="M264 258h1v13h-1z"/>
<path fill="#00ff37" d="M265 258h1v13h-1z"/>
<path fill="#7aff00" d="M268 258h1v13h-1z"/>
<path fill="#fff500" d="M270 258h1v13h-1zM268 313h1v20h-1z"/>
<path fill="#ffe100" d="M271 258h4v13h-4zM286 284h1v14h-1zM288 333h1v11h-1z"/>
<path fill="#ffdf00" d="M281 258h5v13h-5zM451 313h1v20h-1z"/>
<path fill="#4fff00" d="M289 258h1v13h-1zM473 333h1v11h-1z"/>
<path fill="#12ff00" d="M290 258h1v13h-1z"/>
<path fill="#00ff5a" d="M293 258h1v13h-1zM476 298h1v15h-1z"/>
<path fill="#00ff9a" d="M295 258h1v13h-1z"/>
<path fill="#00ffb9" d="M296 258h1v13h-1zM260 284h1v14h-1z"/>
<path fill="#00ffd8" d="M297 258h1v13h-1zM440 284h1v14h-1zM257 313h1v20h-1zM436 313h1v20h-1z"/>
<path fill="#00ffd9" d="M441 258h1v13h-1z"/>
<path fill="#00ff5f" d="M445 258h1v13h-1zM475 258h1v13h-1zM444 284h1v14h-1z"/>
<path fill="#00ff40" d="M446 258h1v13h-1z"/>
<path fill="#00ff20" d="M447 258h1v13h-1zM446 284h1v14h-1zM296 333h1v11h-1z"/>
<path fill="#01ff00" d="M448 258h1v13h-1zM447 284h1v14h-1z"/>
<path fill="#77ff00" d="M450 258h1v13h-1zM449 284h1v14h-1z"/>
<path fill="#b6ff00" d="M451 258h1v13h-1zM470 271h1v13h-1z"/>
<path fill="#f9ff00" d="M452 258h1v13h-1z"/>
<path fill="#ffe700" d="M463 258h5v13h-5z"/>
<path fill="#bbff00" d="M469 258h1v13h-1z"/>
<path fill="#7bff00" d="M470 258h1v13h-1zM471 271h1v13h-1z"/>
<path fill="#3eff00" d="M471 258h1v13h-1z"/>
<path fill="#03ff00" d="M472 258h1v13h-1z"/>
<path fill="#00ff1f" d="M473 258h1v13h-1z"/>
<path fill="#00ff3f" d="M474 258h1v13h-1zM445 284h1v14h-1z"/>
<path fill="#00ffd7" d="M260 271h1v13h-1zM439 284h1v14h-1zM480 298h1v15h-1zM155 313h1v20h-1zM187 313h2v20h-2zM198 313h1v20h-1zM205 313h1v20h-1zM211 313h1v20h-1zM218 313h1v20h-1zM349 313h1v20h-1zM354 313h1v20h-1zM369 313h1v20h-1zM371 313h1v20h-1zM393 313h1v20h-1zM399 313h1v20h-1zM406 313h1v20h-1zM414 313h1v20h-1zM425 313h1v20h-1zM515 313h1v20h-1zM524 313h1v20h-1zM256 333h1v11h-1zM436 333h1v11h-1z"/>
<path fill="#00ffb2" d="M261 271h1v13h-1z"/>
<path fill="#00ff8e" d="M262 271h1v13h-1zM478 271h1v13h-1z"/>
<path fill="#14ff00" d="M266 271h1v13h-1zM275 298h1v15h-1z"/>
<path fill="#5bff00" d="M267 271h1v13h-1z"/>
<path fill="#a4ff00" d="M268 271h1v13h-1z"/>
<path fill="#f1ff00" d="M269 271h1v13h-1z"/>
<path fill="#ffd900" d="M271 271h4v13h-4z"/>
<path fill="#ffd600" d="M281 271h5v13h-5zM287 313h1v20h-1z"/>
<path fill="#ffed00" d="M286 271h1v13h-1zM468 271h1v13h-1z"/>
<path fill="#f0ff00" d="M287 271h1v13h-1z"/>
<path fill="#afff00" d="M288 271h1v13h-1z"/>
<path fill="#70ff00" d="M289 271h1v13h-1z"/>
<path fill="#33ff00" d="M290 271h1v13h-1z"/>
<path fill="#00ffca" d="M441 271h1v13h-1zM193 333h1v11h-1zM233 333h1v11h-1zM242 333h1v11h-1zM318 333h1v11h-1zM324 333h1v11h-1zM327 333h1v11h-1zM335 333h1v11h-1zM339 333h1v11h-1zM372 333h2v11h-2zM377 333h1v11h-1zM404 333h1v11h-1zM485 333h1v11h-1zM487 333h1v11h-1zM498 333h1v11h-1zM533 333h2v11h-2zM584 333h1v11h-1z"/>
<path fill="#1eff00" d="M448 271h1v13h-1zM458 313h1v20h-1z"/>
<path fill="#95ff00" d="M450 271h1v13h-1z"/>
<path fill="#d5ff00" d="M451 271h1v13h-1z"/>
<path fill="#fff600" d="M452 271h1v13h-1zM269 284h1v14h-1z"/>
<path fill="#ffe000" d="M453 271h5v13h-5z"/>
<path fill="#00ff0d" d="M458 271h1v13h-1zM264 298h1v15h-1z"/>
<path fill="#ffde00" d="M463 271h5v13h-5z"/>
<path fill="#f3ff00" d="M469 271h1v13h-1zM268 298h1v15h-1z"/>
<path fill="#43ff00" d="M472 271h1v13h-1z"/>
<path fill="#0cff00" d="M473 271h1v13h-1z"/>
<path fill="#00ffab" d="M479 271h1v13h-1z"/>
<path fill="#00ffc7" d="M480 271h1v13h-1zM440 298h1v15h-1z"/>
<path fill="#86ff00" d="M267 284h1v14h-1zM471 298h1v15h-1zM447 313h1v20h-1z"/>
<path fill="#ffda00" d="M270 284h1v14h-1zM451 333h1v11h-1z"/>
<path fill="#ffd000" d="M271 284h4v14h-4z"/>
<path fill="#08ff00" d="M280 284h1v14h-1z"/>
<path fill="#ffce00" d="M281 284h5v14h-5zM270 298h1v15h-1zM463 298h5v15h-5zM287 333h1v11h-1z"/>
<path fill="#d2ff00" d="M288 284h1v14h-1z"/>
<path fill="#93ff00" d="M289 284h1v14h-1z"/>
<path fill="#57ff00" d="M290 284h1v14h-1z"/>
<path fill="#00ff32" d="M293 284h1v14h-1z"/>
<path fill="#00ff90" d="M296 284h1v14h-1z"/>
<path fill="#00ffaf" d="M297 284h1v14h-1z"/>
<path fill="#b4ff00" d="M450 284h1v14h-1z"/>
<path fill="#ffec00" d="M452 284h1v14h-1z"/>
<path fill="#ffd700" d="M453 284h5v14h-5z"/>
<path fill="#00ff00" d="M462 284h1v14h-1z"/>
<path fill="#ffd500" d="M463 284h5v14h-5z"/>
<path fill="#ffdc00" d="M468 284h1v14h-1z"/>
<path fill="#fff200" d="M469 284h1v14h-1zM450 313h1v20h-1zM469 313h1v20h-1z"/>
<path fill="#e9ff00" d="M470 284h1v14h-1z"/>
<path fill="#b0ff00" d="M471 284h1v14h-1z"/>
<path fill="#79ff00" d="M472 284h1v14h-1z"/>
<path fill="#44ff00" d="M473 284h1v14h-1z"/>
<path fill="#00ff14" d="M475 284h1v14h-1zM475 333h1v11h-1z"/>
<path fill="#00ffd6" d="M482 284h1v14h-1z"/>
<path fill="#28ff00" d="M265 298h1v15h-1zM280 313h1v20h-1z"/>
<path fill="#adff00" d="M267 298h1v15h-1z"/>
<path fill="#ffca00" d="M271 298h4v15h-4z"/>
<path fill="#ffc800" d="M281 298h5v15h-5z"/>
<path fill="#ffd100" d="M286 298h1v15h-1zM453 298h5v15h-5zM468 333h1v11h-1z"/>
<path fill="#cbff00" d="M289 298h1v15h-1z"/>
<path fill="#5aff00" d="M291 298h1v15h-1z"/>
<path fill="#24ff00" d="M292 298h1v15h-1zM445 313h1v20h-1z"/>
<path fill="#00ff0a" d="M293 298h1v15h-1z"/>
<path fill="#00ffb8" d="M299 298h1v15h-1zM479 298h1v15h-1zM258 313h1v20h-1zM257 333h1v11h-1z"/>
<path fill="#00ffa9" d="M441 298h1v15h-1z"/>
<path fill="#56ff00" d="M448 298h1v15h-1zM293 333h1v11h-1z"/>
<path fill="#91ff00" d="M449 298h1v15h-1z"/>
<path fill="#ffe300" d="M452 298h1v15h-1z"/>
<path fill="#ffe500" d="M468 298h1v15h-1z"/>
<path fill="#fffc00" d="M469 298h1v15h-1z"/>
<path fill="#c5ff00" d="M470 298h1v15h-1zM471 333h1v11h-1z"/>
<path fill="#1bff00" d="M264 313h1v20h-1z"/>
<path fill="#98ff00" d="M266 313h1v20h-1z"/>
<path fill="#d9ff00" d="M267 313h1v20h-1z"/>
<path fill="#ffdd00" d="M269 313h1v20h-1z"/>
<path fill="#ffc400" d="M270 313h5v20h-5z"/>
<path fill="#25ff00" d="M275 313h1v20h-1z"/>
<path fill="#ffc100" d="M281 313h6v20h-6z"/>
<path fill="#d0ff00" d="M290 313h1v20h-1z"/>
<path fill="#69ff00" d="M292 313h1v20h-1zM472 313h1v20h-1z"/>
<path fill="#37ff00" d="M293 313h1v20h-1zM280 333h1v11h-1z"/>
<path fill="#06ff00" d="M294 313h1v20h-1z"/>
<path fill="#00ff33" d="M296 313h1v20h-1zM476 333h1v11h-1z"/>
<path fill="#00ffd1" d="M302 313h1v20h-1z"/>
<path fill="#00ff72" d="M440 313h1v20h-1z"/>
<path fill="#54ff00" d="M446 313h1v20h-1z"/>
<path fill="#baff00" d="M448 313h1v20h-1z"/>
<path fill="#eeff00" d="M449 313h1v20h-1z"/>
<path fill="#ffc900" d="M452 313h6v20h-6z"/>
<path fill="#21ff00" d="M462 313h1v20h-1z"/>
<path fill="#ffc700" d="M463 313h5v20h-5z"/>
<path fill="#ffdb00" d="M468 313h1v20h-1z"/>
<path fill="#e4ff00" d="M470 313h1v20h-1z"/>
<path fill="#a6ff00" d="M471 313h1v20h-1z"/>
<path fill="#00ff27" d="M475 313h1v20h-1z"/>
<path fill="#00ff66" d="M477 313h1v20h-1z"/>
<path fill="#00ffc3" d="M480 313h1v20h-1z"/>
<path fill="#00ffb6" d="M208 333h1v11h-1zM232 333h1v11h-1zM414 333h1v11h-1z"/>
<path fill="#0bff00" d="M263 333h1v11h-1z"/>
<path fill="#46ff00" d="M264 333h1v11h-1z"/>
<path fill="#bfff00" d="M266 333h1v11h-1z"/>
<path fill="#feff00" d="M267 333h1v11h-1z"/>
<path fill="#ffe900" d="M268 333h1v11h-1zM469 333h1v11h-1z"/>
<path fill="#ffd200" d="M269 333h1v11h-1z"/>
<path fill="#ffbe00" d="M270 333h5v11h-5z"/>
<path fill="#ffbb00" d="M281 333h6v11h-6z"/>
<path fill="#fff400" d="M289 333h1v11h-1z"/>
<path fill="#edff00" d="M290 333h1v11h-1z"/>
<path fill="#b9ff00" d="M291 333h1v11h-1z"/>
<path fill="#87ff00" d="M292 333h1v11h-1z"/>
<path fill="#26ff00" d="M294 333h1v11h-1z"/>
<path fill="#00ff88" d="M300 333h1v11h-1z"/>
<path fill="#00ff89" d="M439 333h1v11h-1z"/>
<path fill="#2dff00" d="M445 333h1v11h-1z"/>
<path fill="#5fff00" d="M446 333h1v11h-1z"/>
<path fill="#c6ff00" d="M448 333h1v11h-1z"/>
<path fill="#fbff00" d="M449 333h1v11h-1z"/>
<path fill="#ffee00" d="M450 333h1v11h-1z"/>
<path fill="#ffc300" d="M452 333h1v11h-1z"/>
<path fill="#ffc200" d="M453 333h5v11h-5z"/>
<path fill="#ffc000" d="M463 333h5v11h-5z"/>
<path fill="#fffe00" d="M470 333h1v11h-1z"/>
<path fill="#89ff00" d="M472 333h1v11h-1z"/>
<path fill="#00ff8f" d="M479 333h1v11h-1z"/>
<path fill="#00ffcb" d="M481 333h1v11h-1z"/>
</g>
<defs><linearGradient id="cb" x1="0" y1="1" x2="0" y2="0">
<stop offset="0.0000" stop-color="#000089"/>
<stop offset="0.1176" stop-color="#0000ff"/>
<stop offset="0.2471" stop-color="#00ffff"/>
<stop offset="0.4941" stop-color="#00ff00"/>
<stop offset="0.6353" stop-color="#ffff00"/>
<stop offset="0.7529" stop-color="#ffb900"/>
<stop offset="0.8667" stop-color="#ff5400"/>
<stop offset="1.0000" stop-color="#ff0000"/>
</linearGradient></defs>
<rect x="613" y="57" width="14" height="301" fill="url(#cb)"/>
<g fill="#000" shape-rendering="crispEdges">
<rect x="627" y="57" width="1" height="301"/>
<rect x="628" y="77" width="5" height="1"/>
<rect x="628" y="112" width="10" height="1"/>
<rect x="628" y="147" width="5" height="1"/>
<rect x="628" y="182" width="10" height="1"/>
<rect x="628" y="217" width="5" height="1"/>
<rect x="628" y="252" width="10" height="1"/>
<rect x="628" y="287" width="5" height="1"/>
<rect x="628" y="322" width="10" height="1"/>
<rect x="628" y="357" width="5" height="1"/>
</g>
<text x="642.9" y="119.8" textLength="17.4" lengthAdjust="spacingAndGlyphs">10</text>
<text x="659.5" y="112.9" textLength="8.8" lengthAdjust="spacingAndGlyphs">2</text>
<text x="642.9" y="189.8" textLength="17.4" lengthAdjust="spacingAndGlyphs">10</text>
<text x="659.5" y="182.9" textLength="8.8" lengthAdjust="spacingAndGlyphs">0</text>
<text x="642.9" y="259.8" textLength="17.4" lengthAdjust="spacingAndGlyphs">10</text>
<text x="659.5" y="252.9" textLength="13.6" lengthAdjust="spacingAndGlyphs">-2</text>
<text x="642.9" y="329.8" textLength="17.4" lengthAdjust="spacingAndGlyphs">10</text>
<text x="659.5" y="322.9" textLength="13.6" lengthAdjust="spacingAndGlyphs">-4</text>
<text x="685.3" y="121.2" textLength="170.4" lengthAdjust="spacingAndGlyphs" transform="rotate(90 685.3 121.2)">FPDI (#/cm^2/s/sr/MeV)</text>
<g fill="#000" shape-rendering="crispEdges">
<rect x="111" y="55" width="489" height="1"/>
<rect x="111" y="357" width="489" height="1"/>
<rect x="111" y="55" width="1" height="303"/>
<rect x="599" y="55" width="1" height="303"/>
<rect x="112" y="357" width="1" height="11"/>
<rect x="132" y="357" width="1" height="6"/>
<rect x="152" y="357" width="1" height="6"/>
<rect x="172" y="357" width="1" height="6"/>
<rect x="193" y="357" width="1" height="6"/>
<rect x="213" y="357" width="1" height="6"/>
<rect x="233" y="357" width="1" height="11"/>
<rect x="254" y="357" width="1" height="6"/>
<rect x="274" y="357" width="1" height="6"/>
<rect x="294" y="357" width="1" height="6"/>
<rect x="314" y="357" width="1" height="6"/>
<rect x="335" y="357" width="1" height="6"/>
<rect x="355" y="357" width="1" height="11"/>
<rect x="375" y="357" width="1" height="6"/>
<rect x="396" y="357" width="1" height="6"/>
<rect x="416" y="357" width="1" height="6"/>
<rect x="436" y="357" width="1" height="6"/>
<rect x="457" y="357" width="1" height="6"/>
<rect x="477" y="357" width="1" height="11"/>
<rect x="497" y="357" width="1" height="6"/>
<rect x="517" y="357" width="1" height="6"/>
<rect x="538" y="357" width="1" height="6"/>
<rect x="558" y="357" width="1" height="6"/>
<rect x="578" y="357" width="1" height="6"/>
<rect x="599" y="357" width="1" height="11"/>
<rect x="111" y="407" width="489" height="1"/>
<rect x="111" y="514" width="489" height="1"/>
<rect x="111" y="407" width="1" height="108"/>
<rect x="599" y="407" width="1" height="108"/>
<rect x="112" y="514" width="1" height="11"/>
<rect x="132" y="514" width="1" height="6"/>
<rect x="152" y="514" width="1" height="6"/>
<rect x="172" y="514" width="1" height="6"/>
<rect x="193" y="514" width="1" height="6"/>
<rect x="213" y="514" width="1" height="6"/>
<rect x="233" y="514" width="1" height="11"/>
<rect x="254" y="514" width="1" height="6"/>
<rect x="274" y="514" width="1" height="6"/>
<rect x="294" y="514" width="1" height="6"/>
<rect x="314" y="514" width="1" height="6"/>
<rect x="335" y="514" width="1" height="6"/>
<rect x="355" y="514" width="1" height="11"/>
<rect x="375" y="514" width="1" height="6"/>
<rect x="396" y="514" width="1" height="6"/>
<rect x="416" y="514" width="1" height="6"/>
<rect x="436" y="514" width="1" height="6"/>
<rect x="457" y="514" width="1" height="6"/>
<rect x="477" y="514" width="1" height="11"/>
<rect x="497" y="514" width="1" height="6"/>
<rect x="517" y="514" width="1" height="6"/>
<rect x="538" y="514" width="1" height="6"/>
<rect x="558" y="514" width="1" height="6"/>
<rect x="578" y="514" width="1" height="6"/>
<rect x="599" y="514" width="1" height="11"/>
<rect x="111" y="565" width="489" height="1"/>
<rect x="111" y="672" width="489" height="1"/>
<rect x="111" y="565" width="1" height="108"/>
<rect x="599" y="565" width="1" height="108"/>
<rect x="112" y="672" width="1" height="11"/>
<rect x="132" y="672" width="1" height="6"/>
<rect x="152" y="672" width="1" height="6"/>
<rect x="172" y="672" width="1" height="6"/>
<rect x="193" y="672" width="1" height="6"/>
<rect x="213" y="672" width="1" height="6"/>
<rect x="233" y="672" width="1" height="11"/>
<rect x="254" y="672" width="1" height="6"/>
<rect x="274" y="672" width="1" height="6"/>
<rect x="294" y="672" width="1" height="6"/>
<rect x="314" y="672" width="1" height="6"/>
<rect x="335" y="672" width="1" height="6"/>
<rect x="355" y="672" width="1" height="11"/>
<rect x="375" y="672" width="1" height="6"/>
<rect x="396" y="672" width="1" height="6"/>
<rect x="416" y="672" width="1" height="6"/>
<rect x="436" y="672" width="1" height="6"/>
<rect x="457" y="672" width="1" height="6"/>
<rect x="477" y="672" width="1" height="11"/>
<rect x="497" y="672" width="1" height="6"/>
<rect x="517" y="672" width="1" height="6"/>
<rect x="538" y="672" width="1" height="6"/>
<rect x="558" y="672" width="1" height="6"/>
<rect x="578" y="672" width="1" height="6"/>
<rect x="599" y="672" width="1" height="11"/>
<rect x="111" y="722" width="489" height="1"/>
<rect x="111" y="862" width="489" height="1"/>
<rect x="111" y="722" width="1" height="141"/>
<rect x="599" y="722" width="1" height="141"/>
<rect x="112" y="862" width="1" height="11"/>
<rect x="132" y="862" width="1" height="6"/>
<rect x="152" y="862" width="1" height="6"/>
<rect x="172" y="862" width="1" height="6"/>
<rect x="193" y="862" width="1" height="6"/>
<rect x="213" y="862" width="1" height="6"/>
<rect x="233" y="862" width="1" height="11"/>
<rect x="254" y="862" width="1" height="6"/>
<rect x="274" y="862" width="1" height="6"/>
<rect x="294" y="862" width="1" height="6"/>
<rect x="314" y="862" width="1" height="6"/>
<rect x="335" y="862" width="1" height="6"/>
<rect x="355" y="862" width="1" height="11"/>
<rect x="375" y="862" width="1" height="6"/>
<rect x="396" y="862" width="1" height="6"/>
<rect x="416" y="862" width="1" height="6"/>
<rect x="436" y="862" width="1" height="6"/>
<rect x="457" y="862" width="1" height="6"/>
<rect x="477" y="862" width="1" height="11"/>
<rect x="497" y="862" width="1" height="6"/>
<rect x="517" y="862" width="1" height="6"/>
<rect x="538" y="862" width="1" height="6"/>
<rect x="558" y="862" width="1" height="6"/>
<rect x="578" y="862" width="1" height="6"/>
<rect x="599" y="862" width="1" height="11"/>
<rect x="106" y="341" width="6" height="1"/>
<rect x="106" y="327" width="6" height="1"/>
<rect x="106" y="315" width="6" height="1"/>
<rect x="106" y="305" width="6" height="1"/>
<rect x="101" y="295" width="11" height="1"/>
<rect x="106" y="234" width="6" height="1"/>
<rect x="106" y="198" width="6" height="1"/>
<rect x="106" y="173" width="6" height="1"/>
<rect x="106" y="153" width="6" height="1"/>
<rect x="106" y="137" width="6" height="1"/>
<rect x="106" y="123" width="6" height="1"/>
<rect x="106" y="111" width="6" height="1"/>
<rect x="106" y="101" width="6" height="1"/>
<rect x="101" y="91" width="11" height="1"/>
<rect x="106" y="357" width="6" height="1"/>
<rect x="106" y="513" width="6" height="1"/>
<rect x="106" y="510" width="6" height="1"/>
<rect x="106" y="507" width="6" height="1"/>
<rect x="106" y="505" width="6" height="1"/>
<rect x="106" y="503" width="6" height="1"/>
<rect x="106" y="502" width="6" height="1"/>
<rect x="106" y="500" width="6" height="1"/>
<rect x="101" y="499" width="11" height="1"/>
<rect x="106" y="491" width="6" height="1"/>
<rect x="106" y="486" width="6" height="1"/>
<rect x="106" y="483" width="6" height="1"/>
<rect x="106" y="480" width="6" height="1"/>
<rect x="106" y="478" width="6" height="1"/>
<rect x="106" y="477" width="6" height="1"/>
<rect x="106" y="475" width="6" height="1"/>
<rect x="106" y="474" width="6" height="1"/>
<rect x="101" y="472" width="11" height="1"/>
<rect x="106" y="464" width="6" height="1"/>
<rect x="106" y="460" width="6" height="1"/>
<rect x="106" y="456" width="6" height="1"/>
<rect x="106" y="454" width="6" height="1"/>
<rect x="106" y="452" width="6" height="1"/>
<rect x="106" y="450" width="6" height="1"/>
<rect x="106" y="448" width="6" height="1"/>
<rect x="106" y="447" width="6" height="1"/>
<rect x="101" y="446" width="11" height="1"/>
<rect x="106" y="438" width="6" height="1"/>
<rect x="106" y="433" width="6" height="1"/>
<rect x="106" y="430" width="6" height="1"/>
<rect x="106" y="427" width="6" height="1"/>
<rect x="106" y="425" width="6" height="1"/>
<rect x="106" y="423" width="6" height="1"/>
<rect x="106" y="422" width="6" height="1"/>
<rect x="106" y="421" width="6" height="1"/>
<rect x="101" y="419" width="11" height="1"/>
<rect x="106" y="411" width="6" height="1"/>
<rect x="106" y="672" width="6" height="1"/>
<rect x="101" y="670" width="11" height="1"/>
<rect x="106" y="667" width="6" height="1"/>
<rect x="106" y="665" width="6" height="1"/>
<rect x="106" y="662" width="6" height="1"/>
<rect x="106" y="660" width="6" height="1"/>
<rect x="101" y="657" width="11" height="1"/>
<rect x="106" y="655" width="6" height="1"/>
<rect x="106" y="653" width="6" height="1"/>
<rect x="106" y="650" width="6" height="1"/>
<rect x="106" y="648" width="6" height="1"/>
<rect x="101" y="645" width="11" height="1"/>
<rect x="106" y="643" width="6" height="1"/>
<rect x="106" y="640" width="6" height="1"/>
<rect x="106" y="638" width="6" height="1"/>
<rect x="106" y="635" width="6" height="1"/>
<rect x="101" y="633" width="11" height="1"/>
<rect x="106" y="630" width="6" height="1"/>
<rect x="106" y="628" width="6" height="1"/>
<rect x="106" y="625" width="6" height="1"/>
<rect x="106" y="623" width="6" height="1"/>
<rect x="101" y="620" width="11" height="1"/>
<rect x="106" y="618" width="6" height="1"/>
<rect x="106" y="615" width="6" height="1"/>
<rect x="106" y="613" width="6" height="1"/>
<rect x="106" y="610" width="6" height="1"/>
<rect x="101" y="608" width="11" height="1"/>
<rect x="106" y="605" width="6" height="1"/>
<rect x="106" y="603" width="6" height="1"/>
<rect x="106" y="600" width="6" height="1"/>
<rect x="106" y="598" width="6" height="1"/>
<rect x="101" y="595" width="11" height="1"/>
<rect x="106" y="593" width="6" height="1"/>
<rect x="106" y="590" width="6" height="1"/>
<rect x="106" y="588" width="6" height="1"/>
<rect x="106" y="585" width="6" height="1"/>
<rect x="101" y="583" width="11" height="1"/>
<rect x="106" y="580" width="6" height="1"/>
<rect x="106" y="578" width="6" height="1"/>
<rect x="106" y="575" width="6" height="1"/>
<rect x="106" y="573" width="6" height="1"/>
<rect x="101" y="570" width="11" height="1"/>
<rect x="106" y="568" width="6" height="1"/>
<rect x="106" y="860" width="6" height="1"/>
<rect x="106" y="858" width="6" height="1"/>
<rect x="101" y="855" width="11" height="1"/>
<rect x="106" y="853" width="6" height="1"/>
<rect x="106" y="850" width="6" height="1"/>
<rect x="106" y="848" width="6" height="1"/>
<rect x="106" y="846" width="6" height="1"/>
<rect x="106" y="843" width="6" height="1"/>
<rect x="106" y="841" width="6" height="1"/>
<rect x="106" y="838" width="6" height="1"/>
<rect x="106" y="836" width="6" height="1"/>
<rect x="106" y="833" width="6" height="1"/>
<rect x="101" y="831" width="11" height="1"/>
<rect x="106" y="829" width="6" height="1"/>
<rect x="106" y="826" width="6" height="1"/>
<rect x="106" y="824" width="6" height="1"/>
<rect x="106" y="821" width="6" height="1"/>
<rect x="106" y="819" width="6" height="1"/>
<rect x="106" y="816" width="6" height="1"/>
<rect x="106" y="814" width="6" height="1"/>
<rect x="106" y="812" width="6" height="1"/>
<rect x="106" y="809" width="6" height="1"/>
<rect x="101" y="807" width="11" height="1"/>
<rect x="106" y="804" width="6" height="1"/>
<rect x="106" y="802" width="6" height="1"/>
<rect x="106" y="800" width="6" height="1"/>
<rect x="106" y="797" width="6" height="1"/>
<rect x="106" y="795" width="6" height="1"/>
<rect x="106" y="792" width="6" height="1"/>
<rect x="106" y="790" width="6" height="1"/>
<rect x="106" y="787" width="6" height="1"/>
<rect x="106" y="785" width="6" height="1"/>
<rect x="101" y="783" width="11" height="1"/>
<rect x="106" y="780" width="6" height="1"/>
<rect x="106" y="778" width="6" height="1"/>
<rect x="106" y="775" width="6" height="1"/>
<rect x="106" y="773" width="6" height="1"/>
<rect x="106" y="770" width="6" height="1"/>
<rect x="106" y="768" width="6" height="1"/>
<rect x="106" y="766" width="6" height="1"/>
<rect x="106" y="763" width="6" height="1"/>
<rect x="106" y="761" width="6" height="1"/>
<rect x="101" y="758" width="11" height="1"/>
<rect x="106" y="756" width="6" height="1"/>
<rect x="106" y="754" width="6" height="1"/>
<rect x="106" y="751" width="6" height="1"/>
<rect x="106" y="749" width="6" height="1"/>
<rect x="106" y="746" width="6" height="1"/>
<rect x="106" y="744" width="6" height="1"/>
<rect x="106" y="741" width="6" height="1"/>
<rect x="106" y="739" width="6" height="1"/>
<rect x="106" y="737" width="6" height="1"/>
<rect x="101" y="734" width="11" height="1"/>
<rect x="106" y="732" width="6" height="1"/>
<rect x="106" y="729" width="6" height="1"/>
<rect x="106" y="727" width="6" height="1"/>
<rect x="106" y="725" width="6" height="1"/>
</g>
<text x="116.15" y="45.5" textLength="42.8" lengthAdjust="spacingAndGlyphs">RPS-B</text>
<text x="167.05" y="45.5" textLength="95.4" lengthAdjust="spacingAndGlyphs">Unidirectional,</text>
<text x="268.85" y="45.5" textLength="68.2" lengthAdjust="spacingAndGlyphs">differential</text>
<text x="340.15" y="45.5" textLength="25.9" lengthAdjust="spacingAndGlyphs">flux</text>
<text x="368.65" y="45.5" textLength="16.0" lengthAdjust="spacingAndGlyphs">vs</text>
<text x="388.55" y="45.5" textLength="48.3" lengthAdjust="spacingAndGlyphs">energy</text>
<text x="441.85" y="45.5" textLength="62.7" lengthAdjust="spacingAndGlyphs">(Isotropic</text>
<text x="509.35" y="45.5" textLength="85.6" lengthAdjust="spacingAndGlyphs">assumption)</text>
<text x="228.15" y="397.5" textLength="27.2" lengthAdjust="spacingAndGlyphs">RPS</text>
<text x="264.15" y="397.5" textLength="36.3" lengthAdjust="spacingAndGlyphs">Dose</text>
<text x="305.15" y="397.5" textLength="25.9" lengthAdjust="spacingAndGlyphs">rate</text>
<text x="336.15" y="397.5" textLength="11.5" lengthAdjust="spacingAndGlyphs">in</text>
<text x="351.85" y="397.5" textLength="71.9" lengthAdjust="spacingAndGlyphs">Dosimeter</text>
<text x="428.35" y="397.5" textLength="7.8" lengthAdjust="spacingAndGlyphs">1</text>
<text x="441.25" y="397.5" textLength="41.3" lengthAdjust="spacingAndGlyphs">(front)</text>
<text x="126.15" y="555.7" textLength="67.6" lengthAdjust="spacingAndGlyphs">Equatorial</text>
<text x="198.85" y="555.7" textLength="32.2" lengthAdjust="spacingAndGlyphs">pitch</text>
<text x="236.15" y="555.7" textLength="34.6" lengthAdjust="spacingAndGlyphs">angle</text>
<text x="275.35" y="555.7" textLength="13.5" lengthAdjust="spacingAndGlyphs">of</text>
<text x="293.85" y="555.7" textLength="50.8" lengthAdjust="spacingAndGlyphs">particle</text>
<text x="349.45" y="555.7" textLength="26.7" lengthAdjust="spacingAndGlyphs">with</text>
<text x="380.75" y="555.7" textLength="16.5" lengthAdjust="spacingAndGlyphs">90</text>
<text x="402.35" y="555.7" textLength="47.1" lengthAdjust="spacingAndGlyphs">degree</text>
<text x="456.35" y="555.7" textLength="32.6" lengthAdjust="spacingAndGlyphs">pitch</text>
<text x="494.55" y="555.7" textLength="34.9" lengthAdjust="spacingAndGlyphs">angle</text>
<text x="534.55" y="555.7" textLength="11.5" lengthAdjust="spacingAndGlyphs">in</text>
<text x="552.45" y="555.7" textLength="31.6" lengthAdjust="spacingAndGlyphs">OPQ</text>
<text x="205.65" y="712" textLength="55.7" lengthAdjust="spacingAndGlyphs">McIlwain</text>
<text x="266.45" y="712" textLength="7.3" lengthAdjust="spacingAndGlyphs">L</text>
<text x="277.65" y="712" textLength="13.5" lengthAdjust="spacingAndGlyphs">of</text>
<text x="295.05" y="712" textLength="40.8" lengthAdjust="spacingAndGlyphs">locally</text>
<text x="339.95" y="712" textLength="60.6" lengthAdjust="spacingAndGlyphs">mirroring</text>
<text x="405.25" y="712" textLength="49.0" lengthAdjust="spacingAndGlyphs">particle</text>
<text x="458.55" y="712" textLength="11.1" lengthAdjust="spacingAndGlyphs">in</text>
<text x="473.95" y="712" textLength="31.7" lengthAdjust="spacingAndGlyphs">OPQ</text>
<text x="69.8" y="98.8" textLength="17.6" lengthAdjust="spacingAndGlyphs">10</text>
<text x="87" y="91.9" textLength="9.6" lengthAdjust="spacingAndGlyphs">3</text>
<text x="69.8" y="302.8" textLength="17.6" lengthAdjust="spacingAndGlyphs">10</text>
<text x="87" y="295.9" textLength="9.6" lengthAdjust="spacingAndGlyphs">2</text>
<text x="64.7" y="426.8" textLength="17.6" lengthAdjust="spacingAndGlyphs">10</text>
<text x="81.9" y="419.9" textLength="13.8" lengthAdjust="spacingAndGlyphs">-3</text>
<text x="64.7" y="453.8" textLength="17.6" lengthAdjust="spacingAndGlyphs">10</text>
<text x="81.9" y="446.9" textLength="13.8" lengthAdjust="spacingAndGlyphs">-4</text>
<text x="64.7" y="479.8" textLength="17.6" lengthAdjust="spacingAndGlyphs">10</text>
<text x="81.9" y="472.9" textLength="13.8" lengthAdjust="spacingAndGlyphs">-5</text>
<text x="64.7" y="506.8" textLength="17.6" lengthAdjust="spacingAndGlyphs">10</text>
<text x="81.9" y="499.9" textLength="13.8" lengthAdjust="spacingAndGlyphs">-6</text>
<text x="97" y="675" text-anchor="end" textLength="23.0" lengthAdjust="spacingAndGlyphs">50.</text>
<text x="97" y="662" text-anchor="end" textLength="23.0" lengthAdjust="spacingAndGlyphs">55.</text>
<text x="97" y="650" text-anchor="end" textLength="23.0" lengthAdjust="spacingAndGlyphs">60.</text>
<text x="97" y="638" text-anchor="end" textLength="23.0" lengthAdjust="spacingAndGlyphs">65.</text>
<text x="97" y="625" text-anchor="end" textLength="23.0" lengthAdjust="spacingAndGlyphs">70.</text>
<text x="97" y="613" text-anchor="end" textLength="23.0" lengthAdjust="spacingAndGlyphs">75.</text>
<text x="97" y="600" text-anchor="end" textLength="23.0" lengthAdjust="spacingAndGlyphs">80.</text>
<text x="97" y="588" text-anchor="end" textLength="23.0" lengthAdjust="spacingAndGlyphs">85.</text>
<text x="97" y="575" text-anchor="end" textLength="23.0" lengthAdjust="spacingAndGlyphs">90.</text>
<text x="97.8" y="860" text-anchor="end" textLength="14.2" lengthAdjust="spacingAndGlyphs">1.</text>
<text x="97.8" y="836" text-anchor="end" textLength="14.2" lengthAdjust="spacingAndGlyphs">2.</text>
<text x="97.8" y="812" text-anchor="end" textLength="14.2" lengthAdjust="spacingAndGlyphs">3.</text>
<text x="97.8" y="788" text-anchor="end" textLength="14.2" lengthAdjust="spacingAndGlyphs">4.</text>
<text x="97.8" y="763" text-anchor="end" textLength="14.2" lengthAdjust="spacingAndGlyphs">5.</text>
<text x="97.8" y="739" text-anchor="end" textLength="14.2" lengthAdjust="spacingAndGlyphs">6.</text>
<g transform="rotate(-90 54.5 260)"><text x="52.8" y="260" textLength="32.3" lengthAdjust="spacingAndGlyphs">FPDI</text><text x="84.8" y="265.2" style="font-size:10px" textLength="32.5" lengthAdjust="spacingAndGlyphs">Energy</text><text x="121.0" y="260" textLength="40.5" lengthAdjust="spacingAndGlyphs">(MeV)</text></g>
<text x="52.2" y="495.4" textLength="69.0" lengthAdjust="spacingAndGlyphs" transform="rotate(-90 52.2 495.4)">(rads/sec)</text>
<g transform="rotate(-90 56.2 653)"><text x="56.2" y="653" textLength="8.2" lengthAdjust="spacingAndGlyphs">&#945;</text><text x="65.6" y="660.0" textLength="16.4" lengthAdjust="spacingAndGlyphs">Eq</text><text x="87.2" y="653" textLength="37.6" lengthAdjust="spacingAndGlyphs">(deg)</text></g>
<g transform="rotate(-90 65.2 812.4)" style="font-size:14.6px"><text x="64.6" y="812.4" textLength="7.4" lengthAdjust="spacingAndGlyphs">L</text><text x="75.6" y="812.4" textLength="15.0" lengthAdjust="spacingAndGlyphs">(R</text><text x="90.0" y="819.4" textLength="8.8" lengthAdjust="spacingAndGlyphs">E</text><text x="100.0" y="812.4" textLength="4.6" lengthAdjust="spacingAndGlyphs">)</text></g>
<text x="132.6" y="890.7" text-anchor="end" textLength="40.4" lengthAdjust="spacingAndGlyphs">00:00</text>
<text x="132.6" y="907.7" text-anchor="end" textLength="40.4" lengthAdjust="spacingAndGlyphs">2.779</text>
<text x="132.6" y="924.7" text-anchor="end" textLength="48.6" lengthAdjust="spacingAndGlyphs">18.640</text>
<text x="132.6" y="941.7" text-anchor="end" textLength="48.6" lengthAdjust="spacingAndGlyphs">18.450</text>
<text x="132.6" y="958.7" text-anchor="end" textLength="40.4" lengthAdjust="spacingAndGlyphs">3.095</text>
<text x="254.6" y="890.7" text-anchor="end" textLength="40.4" lengthAdjust="spacingAndGlyphs">06:00</text>
<text x="254.6" y="907.7" text-anchor="end" textLength="40.4" lengthAdjust="spacingAndGlyphs">4.627</text>
<text x="254.6" y="924.7" text-anchor="end" textLength="48.6" lengthAdjust="spacingAndGlyphs">13.830</text>
<text x="254.6" y="941.7" text-anchor="end" textLength="40.4" lengthAdjust="spacingAndGlyphs">0.779</text>
<text x="254.6" y="958.7" text-anchor="end" textLength="40.4" lengthAdjust="spacingAndGlyphs">4.908</text>
<text x="376.1" y="890.7" text-anchor="end" textLength="40.4" lengthAdjust="spacingAndGlyphs">12:00</text>
<text x="376.1" y="907.7" text-anchor="end" textLength="40.4" lengthAdjust="spacingAndGlyphs">5.730</text>
<text x="376.1" y="924.7" text-anchor="end" textLength="40.4" lengthAdjust="spacingAndGlyphs">2.031</text>
<text x="376.1" y="941.7" text-anchor="end" textLength="48.6" lengthAdjust="spacingAndGlyphs">22.510</text>
<text x="376.1" y="958.7" text-anchor="end" textLength="40.4" lengthAdjust="spacingAndGlyphs">5.737</text>
<text x="498.1" y="890.7" text-anchor="end" textLength="40.4" lengthAdjust="spacingAndGlyphs">18:00</text>
<text x="498.1" y="907.7" text-anchor="end" textLength="40.4" lengthAdjust="spacingAndGlyphs">2.573</text>
<text x="498.1" y="924.7" text-anchor="end" textLength="48.6" lengthAdjust="spacingAndGlyphs">10.920</text>
<text x="498.1" y="941.7" text-anchor="end" textLength="48.6" lengthAdjust="spacingAndGlyphs">18.420</text>
<text x="498.1" y="958.7" text-anchor="end" textLength="40.4" lengthAdjust="spacingAndGlyphs">2.668</text>
<text x="619.9" y="890.7" text-anchor="end" textLength="40.4" lengthAdjust="spacingAndGlyphs">00:00</text>
<text x="619.9" y="907.7" text-anchor="end" textLength="40.4" lengthAdjust="spacingAndGlyphs">4.734</text>
<text x="619.9" y="924.7" text-anchor="end" textLength="40.4" lengthAdjust="spacingAndGlyphs">6.287</text>
<text x="619.9" y="941.7" text-anchor="end" textLength="40.4" lengthAdjust="spacingAndGlyphs">0.326</text>
<text x="619.9" y="958.7" text-anchor="end" textLength="40.4" lengthAdjust="spacingAndGlyphs">4.792</text>
<text x="72" y="924.7" text-anchor="end" textLength="31.8" lengthAdjust="spacingAndGlyphs">MLat</text>
<text x="72" y="941.7" text-anchor="end" textLength="27.4" lengthAdjust="spacingAndGlyphs">MLT</text>
<text x="72" y="958.7" text-anchor="end" textLength="6.4" lengthAdjust="spacingAndGlyphs">L</text>
<text x="56.2" y="907.7" textLength="9.0" lengthAdjust="spacingAndGlyphs">R</text>
<text x="66.2" y="909.8" textLength="5.6" lengthAdjust="spacingAndGlyphs" style="font-size:9.2px">E</text>
<text x="294.8" y="978.8" textLength="122.2" lengthAdjust="spacingAndGlyphs">2016-12-07 (342)</text>
<path d="M112.2 801.1 L115.8 790.3 L121.1 776.9 L126.5 765.2 L131.9 754.8 L137.3 745.5 L142.7 738.0 L148.0 732.0 L153.4 726.7 L158.8 722.7" fill="none" stroke="#000" stroke-width="1.3" stroke-linejoin="round" stroke-linecap="round"/>
<path d="M203.3 722.7 L209.0 726.7 L216.2 732.6 L223.3 740.1 L230.5 750.0 L235.0 757.1 L239.3 763.1 L246.5 776.9 L253.7 793.0 L260.9 811.8 L266.2 826.2 L270.7 838.7 L274.3 845.9 L277.0 850.4 L278.8 852.7 L280.6 851.6 L283.3 846.8 L286.9 836.9 L291.3 824.4 L296.7 810.0 L302.1 796.6 L307.5 784.9 L314.7 771.5 L321.8 760.7 L329.0 751.8 L336.2 744.6 L343.3 739.2 L350.5 735.6 L355.0 733.8 L359.3 732.6 L367.4 731.5 L375.5 732.2 L382.7 734.4 L389.8 738.0 L397.0 742.8 L404.2 749.1 L411.3 756.6 L418.5 766.1 L425.7 776.9 L432.9 790.3 L440.0 805.5 L445.4 818.1 L450.8 830.7 L454.4 840.5 L458.0 849.5 L460.3 853.4 L462.4 851.3 L466.9 842.3 L470.5 833.3 L475.0 820.8 L480.4 806.4 L485.8 793.0 L492.9 777.8 L500.1 764.3 L507.3 753.6 L514.4 744.6 L521.6 738.0 L528.8 732.9 L536.0 729.3 L543.1 727.2 L552.1 726.3 L561.1 727.2 L568.2 729.7 L575.4 733.3 L582.6 738.3 L589.8 744.6 L595.1 750.9 L599.1 757.1" fill="none" stroke="#000" stroke-width="1.3" stroke-linejoin="round" stroke-linecap="round"/>
<path d="M200.2 671.9 L210.1 666.8 L220.9 661.1 L231.6 654.8 L240.6 647.7 L247.8 639.6 L254.0 630.6 L259.4 619.0 L263.9 604.6 L266.6 588.5 L268.6 572.7 L269.8 584.9 L271.1 602.8 L272.5 619.0 L273.8 638.7 L274.7 653.0 L275.6 658.1 L276.4 653.0 L278.2 635.1 L280.9 613.6 L283.3 595.7 L285.4 586.7 L289.0 576.8 L292.6 570.9 L295.3 575.9 L299.8 581.0 L305.1 584.4 L312.2 586.7 L320.2 587.6 L328.3 586.7 L337.3 584.0 L346.2 579.9 L355.2 575.6 L365.6 570.6 L376.7 576.5 L387.5 582.2 L398.2 587.6 L409.0 593.3 L418.0 598.7 L426.9 604.6 L431.3 607.3 L437.6 612.7 L442.9 619.0 L448.3 625.8 L452.3 628.8 L454.6 626.1 L456.9 615.4 L458.7 593.9 L460.3 574.5 L461.8 597.4 L463.2 617.2 L464.8 604.6 L467.1 595.3 L469.8 598.3 L473.4 605.5 L477.0 611.3 L482.4 615.4 L491.3 618.1 L502.1 620.2 L514.7 622.0 L527.4 622.6 L540.0 621.4 L552.7 618.4 L565.2 614.8 L576.0 610.9 L586.7 605.5 L593.9 601.0 L599.3 597.1" fill="none" stroke="#000" stroke-width="1.3" stroke-linejoin="round" stroke-linecap="round"/>
<path d="M112.2 499.2 L112.6 498.7 L112.9 497.7 L113.3 497.5 L113.6 496.6 L114.0 496.1 L114.4 495.1 L114.7 494.6 L115.1 493.4 L115.4 492.8 L115.8 492.4 L116.2 491.6 L116.5 490.7 L116.9 490.0 L117.3 489.3 L117.7 488.6 L118.0 487.8 L118.4 487.0 L118.8 485.2 L119.1 482.9 L119.5 481.0 L119.8 479.4 L120.2 477.1 L120.6 476.4 L121.0 475.6 L121.4 475.0 L121.7 474.3 L122.1 474.0 L122.5 472.7 L122.9 472.0 L123.3 471.7 L123.6 471.9 L124.0 471.4 L124.3 471.3 L124.7 471.7 L125.1 471.0 L125.4 470.7 L125.8 471.1 L126.1 470.3 L126.5 470.6 L126.9 470.2 L127.2 471.5 L127.6 471.4 L127.9 472.0 L128.3 472.2 L128.7 472.7 L129.0 472.6 L129.4 472.9 L129.7 473.0 L130.1 473.3 L130.4 474.0 L130.8 474.4 L131.1 475.4 L131.5 475.8 L131.8 475.7 L132.2 475.9 L132.5 476.6 L132.9 476.6 L133.2 477.5 L133.6 477.5 L133.9 478.1 L134.3 478.5 L134.6 478.6 L134.9 479.5 L135.3 480.0 L135.6 480.1 L136.0 480.5 L136.3 481.0 L136.7 481.7 L137.0 482.4 L137.4 482.5 L137.7 482.0 L138.1 484.1 L138.4 483.8 L138.8 484.2 L139.1 483.3 L139.4 485.5 L139.8 485.1 L140.1 485.3 L140.5 487.5 L140.8 486.6 L141.2 488.6 L141.5 485.9 L141.9 486.3 L142.2 486.8 L142.6 487.0 L142.9 488.7 L143.3 490.9 L143.6 489.6 L144.0 489.8 L144.3 490.6 L144.7 490.1 L145.1 492.2 L145.4 492.3 L145.8 493.0 L146.2 493.7 L146.5 490.1 L146.9 491.6 L147.3 492.9 L147.6 489.1 L148.0 495.4 L148.4 493.2 L148.7 496.5 L149.1 493.8 L149.4 495.6 L149.8 493.5 L150.2 493.3 L150.5 493.6 L150.9 495.3 L151.2 490.3 L151.6 492.3 L152.0 495.6 L152.3 494.7 L152.7 494.4 L153.0 497.5 L153.4 492.7 L153.8 495.9 L154.1 497.2 L154.5 493.5 L154.8 494.9 L155.2 496.6 L155.6 499.1 L155.9 496.2 L156.3 497.0 L156.6 496.7 L157.0 498.7 L157.4 502.2 L157.7 496.8 L158.1 502.7 L158.4 496.5 L158.8 497.5 L159.2 495.5 L159.5 500.6 L159.9 495.8 L160.2 505.7 L160.6 499.6 L160.9 506.1 L161.2 500.9 L161.6 501.7 L161.9 502.5 L162.3 500.9 L162.7 505.0 L163.0 503.2 L163.3 501.7 L163.7 502.8 L164.0 501.4 L164.4 503.6 L164.7 506.7 L165.1 495.0 L165.4 505.7 L165.8 502.2 L166.1 502.2 L166.5 498.8 L166.8 502.1 L167.2 501.1 L167.5 502.0 L167.9 501.1 L168.2 503.0 L168.6 502.2 L168.9 502.4 L169.3 501.2 L169.6 501.0 L170.0 502.6 L170.3 506.0 L170.7 501.4 L171.0 506.4 L171.4 502.5 L171.7 502.4 L172.1 500.4 L172.4 493.7 L172.8 502.5 L173.1 496.9 L173.5 499.3 L173.8 502.8 L174.2 500.8 L174.5 503.8 L174.9 500.0 L175.2 505.1 L175.6 505.9 L176.0 501.9 L176.3 501.0 L176.7 509.0 L177.0 503.6 L177.4 505.0 L177.7 506.0 L178.1 497.8 L178.4 504.5 L178.8 506.8 L179.1 511.3 L179.4 506.5 L179.8 509.4 L180.1 501.7 L180.5 504.6 L180.8 505.9 L181.2 506.8 L181.5 504.2 L181.9 506.3 L182.2 507.0 L182.6 506.1 L182.9 503.0 L183.2 506.4 L183.6 504.3 L183.9 506.2 L184.3 499.9 L184.6 510.8 L185.0 505.3 L185.3 506.3 L185.7 509.8 L186.0 505.0 L186.4 503.8 L186.8 503.2 L187.1 504.4 L187.5 506.3 L187.8 505.9 L188.2 503.2 L188.6 501.6 L188.9 501.4 L189.2 498.6 L189.6 503.4 L189.9 503.0 L190.3 496.9 L190.7 501.7 L191.0 503.1 L191.3 501.0 L191.7 502.4 L192.1 507.2 L192.4 501.1 L192.8 498.7 L193.1 502.4 L193.4 503.5 L193.8 502.8 L194.2 501.3 L194.5 502.1 L194.8 502.0 L195.2 499.1 L195.6 501.9 L195.9 502.5 L196.2 506.0 L196.6 497.7 L196.9 503.6 L197.3 501.7 L197.7 503.3 L198.0 501.7 L198.4 503.2 L198.7 503.1 L199.1 505.7 L199.4 507.5 L199.8 502.9 L200.1 506.1 L200.5 501.7 L200.8 505.4 L201.2 503.0 L201.5 505.1 L201.9 505.2 L202.2 500.5 L202.6 496.3 L203.0 503.0 L203.3 502.7 L203.7 502.3 L204.0 500.4 L204.4 494.9 L204.7 497.2 L205.1 507.0 L205.4 505.4 L205.8 505.4 L206.1 507.5 L206.5 502.0 L206.9 500.7 L207.2 500.4 L207.6 499.0 L207.9 491.9 L208.3 498.4 L208.7 498.4 L209.0 497.4 L209.4 500.9 L209.7 495.9 L210.1 500.8 L210.4 495.7 L210.8 496.8 L211.2 502.4 L211.5 501.4 L211.9 497.8 L212.2 495.3 L212.6 502.7 L212.9 500.1 L213.3 498.9 L213.6 497.5 L214.0 501.5 L214.3 497.6 L214.7 497.8 L215.0 497.7 L215.3 495.3 L215.7 491.3 L216.0 494.2 L216.4 494.1 L216.7 494.4 L217.1 499.0 L217.4 492.5 L217.7 493.7 L218.1 496.8 L218.4 493.0 L218.8 489.3 L219.1 494.3 L219.5 491.6 L219.8 490.4 L220.2 494.0 L220.5 491.0 L220.9 490.6 L221.2 488.3 L221.6 489.4 L221.9 488.7 L222.3 490.6 L222.6 488.5 L223.0 488.7 L223.4 488.5 L223.7 486.7 L224.1 488.3 L224.4 486.0 L224.8 486.9 L225.1 485.0 L225.5 485.6 L225.8 486.2 L226.2 483.2 L226.5 484.4 L226.9 484.5 L227.2 483.7 L227.6 484.2 L228.0 480.9 L228.3 481.8 L228.7 480.9 L229.0 480.5 L229.3 479.5 L229.7 479.3 L230.1 478.6 L230.4 478.1 L230.8 477.8 L231.1 477.2 L231.5 476.7 L231.8 476.7 L232.2 476.2 L232.6 475.9 L232.9 475.5 L233.3 475.6 L233.6 474.5 L234.0 474.4 L234.4 474.4 L234.7 474.0 L235.1 473.0 L235.4 472.7 L235.8 472.6 L236.1 472.4 L236.5 472.3 L236.8 472.4 L237.2 471.8 L237.5 471.2 L237.9 471.6 L238.2 471.4 L238.6 471.1 L238.9 471.1 L239.2 471.0 L239.6 470.5 L239.9 470.4 L240.3 470.2 L240.6 470.5 L241.0 470.0 L241.3 470.1 L241.7 470.0 L242.0 469.2 L242.4 470.2 L242.8 470.9 L243.2 471.2 L243.5 471.2 L243.9 471.9 L244.3 472.1 L244.7 472.8 L245.1 473.6 L245.5 474.8 L245.9 476.3 L246.2 477.3 L246.6 478.1 L247.0 479.4 L247.4 480.4 L247.8 482.6 L248.2 482.6 L248.6 482.9 L248.9 486.0 L249.3 488.7 L249.7 488.5 L250.1 487.6 L250.5 490.3 L250.9 490.9 L251.3 490.4 L251.6 491.9 L252.0 492.1 L252.4 493.8 L252.8 494.6 L253.2 491.6 L253.6 491.7 L254.0 493.8 L254.3 491.8 L254.7 495.8 L255.1 496.5 L255.5 497.3 L255.8 499.0 L256.2 495.4 L256.6 500.3 L256.9 497.7 L257.2 502.8 L257.6 507.0 L257.9 498.3 L258.3 500.1 L258.6 503.7 L259.0 500.3 L259.3 495.4 L259.7 496.8 L260.0 493.6 L260.4 491.3 L260.7 488.7 L261.1 484.2 L261.4 482.6 L261.8 478.8 L262.2 474.7 L262.5 470.8 L262.9 467.1 L263.2 463.1 L263.6 459.3 L264.0 456.3 L264.5 453.1 L264.9 449.8 L265.3 446.7 L265.7 444.7 L266.1 442.4 L266.5 440.6 L266.8 438.5 L267.2 436.3 L267.6 434.5 L268.0 432.2 L268.4 430.2 L268.7 427.8 L269.1 425.9 L269.5 423.2 L269.8 421.1 L270.2 418.8 L270.6 417.8 L271.0 417.3 L271.4 416.5 L271.8 415.3 L272.2 414.6 L272.6 415.9 L273.0 417.3 L273.4 418.5 L273.8 419.6 L274.3 427.0 L274.8 434.1 L275.1 444.2 L275.5 453.6 L275.7 513.9" fill="none" stroke="#000" stroke-width="1.25" stroke-linejoin="round" stroke-linecap="round"/>
<path d="M280.4 510.5 L280.8 471.2 L281.1 449.0 L281.5 427.1 L281.9 422.7 L282.3 418.5 L282.7 414.3 L283.1 413.6 L283.4 413.4 L283.8 412.9 L284.2 412.2 L284.6 413.2 L284.9 414.6 L285.3 415.7 L285.6 416.6 L286.0 418.1 L286.4 420.4 L286.7 423.1 L287.1 425.3 L287.4 427.9 L287.8 430.8 L288.2 432.5 L288.5 433.9 L288.9 435.8 L289.3 437.4 L289.7 439.5 L290.0 441.1 L290.4 443.0 L290.7 444.0 L291.1 445.8 L291.4 446.9 L291.8 448.3 L292.1 449.4 L292.5 450.7 L292.8 452.2 L293.1 454.4 L293.5 457.5 L293.9 460.1 L294.2 462.8 L294.5 465.6 L294.9 468.1 L295.3 470.3 L295.6 473.5 L296.0 475.5 L296.3 478.2 L296.7 480.9 L297.1 482.3 L297.5 485.0 L297.9 485.6 L298.2 488.6 L298.6 491.2 L299.0 492.4 L299.4 492.4 L299.9 495.1 L300.3 504.1 L300.7 499.8 L301.0 498.1 L301.4 497.9 L301.7 496.7 L302.1 494.1 L302.5 493.7 L302.8 492.5 L303.2 494.6 L303.5 495.6 L303.9 491.8 L304.3 492.3 L304.6 493.5 L305.0 495.3 L305.3 493.1 L305.7 493.5 L306.1 491.3 L306.4 492.2 L306.8 493.2 L307.1 492.8 L307.5 492.7 L307.9 492.6 L308.2 491.6 L308.6 488.1 L308.9 485.3 L309.3 486.0 L309.7 483.9 L310.0 482.8 L310.4 481.7 L310.7 480.2 L311.1 479.3 L311.5 478.6 L311.8 477.0 L312.2 476.8 L312.5 475.1 L312.9 474.2 L313.3 474.2 L313.6 474.1 L314.0 473.4 L314.4 473.1 L314.7 473.1 L315.1 472.8 L315.5 472.9 L315.8 472.5 L316.2 471.8 L316.6 471.1 L316.9 471.0 L317.3 470.8 L317.7 470.9 L318.0 471.0 L318.4 471.2 L318.7 471.7 L319.1 471.5 L319.4 471.4 L319.8 471.4 L320.1 472.0 L320.5 472.0 L320.8 472.5 L321.2 472.2 L321.5 472.4 L321.9 472.5 L322.2 472.2 L322.6 472.3 L322.9 472.9 L323.2 473.0 L323.6 472.9 L323.9 473.9 L324.3 473.6 L324.6 473.8 L325.0 474.3 L325.3 474.5 L325.7 474.6 L326.0 475.0 L326.3 474.8 L326.7 475.3 L327.0 475.2 L327.4 475.7 L327.7 475.7 L328.1 475.9 L328.4 476.4 L328.7 476.6 L329.1 476.8 L329.4 477.1 L329.8 477.1 L330.1 477.5 L330.5 477.6 L330.8 478.2 L331.1 478.2 L331.5 478.6 L331.8 478.7 L332.2 478.7 L332.5 479.2 L332.9 479.9 L333.2 479.8 L333.5 480.3 L333.9 480.6 L334.2 480.3 L334.6 480.5 L334.9 480.6 L335.3 481.0 L335.6 482.1 L335.9 481.9 L336.3 482.9 L336.6 482.8 L337.0 483.9 L337.3 483.4 L337.7 483.5 L338.0 484.2 L338.4 484.2 L338.7 484.0 L339.1 484.0 L339.4 484.1 L339.8 484.6 L340.1 483.5 L340.5 482.4 L340.8 484.5 L341.2 485.5 L341.6 485.8 L341.9 486.0 L342.3 484.7 L342.6 486.6 L343.0 484.9 L343.3 484.2 L343.7 488.2 L344.0 485.3 L344.4 488.9 L344.7 487.0 L345.1 490.1 L345.4 487.1 L345.8 489.9 L346.1 488.3 L346.5 488.3 L346.8 487.5 L347.2 488.2 L347.5 490.1 L347.8 491.0 L348.2 487.9 L348.5 490.0 L348.9 491.9 L349.2 489.7 L349.6 489.9 L349.9 489.8 L350.2 490.7 L350.6 491.1 L350.9 490.1 L351.3 493.7 L351.6 491.0 L352.0 490.5 L352.3 493.9 L352.7 492.5 L353.0 490.5 L353.4 491.5 L353.7 490.6 L354.1 491.7 L354.4 488.6 L354.8 490.3 L355.1 493.0 L355.5 491.4 L355.8 490.6 L356.2 491.3 L356.5 493.6 L356.9 493.4 L357.2 494.5 L357.6 488.7 L357.9 495.9 L358.3 491.2 L358.6 495.3 L359.0 493.2 L359.3 494.4 L359.7 491.3 L360.0 491.3 L360.4 493.0 L360.7 493.7 L361.1 492.1 L361.4 494.3 L361.8 492.7 L362.1 490.7 L362.5 493.3 L362.8 489.5 L363.2 494.7 L363.5 494.3 L363.9 495.6 L364.2 498.0 L364.6 491.8 L364.9 492.3 L365.3 492.2 L365.6 495.0 L365.9 494.7 L366.3 494.4 L366.6 496.7 L367.0 493.5 L367.3 492.9 L367.7 492.3 L368.0 491.5 L368.4 491.3 L368.7 494.8 L369.1 493.2 L369.4 494.8 L369.8 491.6 L370.1 491.7 L370.4 491.5 L370.8 496.8 L371.1 494.4 L371.5 493.7 L371.8 493.1 L372.2 491.6 L372.5 491.7 L372.9 494.3 L373.2 489.4 L373.6 493.6 L373.9 492.8 L374.3 494.7 L374.6 492.4 L375.0 491.3 L375.3 493.9 L375.7 495.2 L376.0 493.7 L376.4 494.6 L376.7 494.9 L377.1 489.6 L377.4 490.5 L377.8 491.8 L378.1 490.2 L378.5 494.0 L378.8 492.6 L379.2 492.6 L379.5 488.7 L379.9 492.3 L380.2 490.4 L380.6 491.9 L380.9 489.8 L381.2 488.2 L381.6 491.3 L381.9 491.5 L382.3 491.9 L382.6 489.1 L383.0 489.3 L383.3 491.1 L383.6 490.6 L384.0 490.3 L384.3 490.9 L384.7 488.7 L385.0 490.2 L385.4 489.5 L385.7 488.5 L386.0 489.6 L386.4 487.5 L386.7 488.7 L387.1 490.5 L387.4 488.7 L387.7 486.7 L388.1 489.5 L388.4 488.6 L388.8 490.2 L389.1 488.0 L389.5 489.4 L389.8 488.2 L390.1 486.5 L390.5 487.8 L390.8 488.3 L391.2 487.4 L391.5 487.6 L391.9 486.8 L392.2 488.0 L392.6 486.2 L392.9 485.8 L393.3 486.9 L393.6 486.0 L394.0 485.6 L394.3 486.6 L394.6 487.5 L395.0 484.3 L395.3 486.6 L395.7 485.6 L396.0 486.9 L396.4 484.4 L396.7 484.7 L397.1 485.9 L397.4 484.2 L397.8 482.8 L398.1 483.5 L398.5 483.5 L398.8 484.9 L399.1 483.0 L399.5 484.0 L399.8 483.4 L400.2 482.3 L400.5 482.2 L400.9 482.8 L401.2 482.5 L401.6 482.1 L401.9 482.4 L402.3 482.2 L402.6 481.5 L403.0 480.8 L403.3 481.6 L403.6 481.3 L404.0 481.2 L404.3 480.6 L404.7 480.7 L405.0 480.3 L405.4 480.2 L405.7 480.4 L406.1 479.7 L406.4 479.8 L406.8 479.2 L407.1 479.5 L407.5 479.3 L407.8 478.9 L408.1 478.7 L408.5 478.5 L408.8 478.3 L409.2 478.2 L409.5 477.7 L409.9 477.6 L410.2 477.6 L410.5 477.1 L410.9 476.8 L411.2 477.0 L411.6 476.3 L411.9 475.8 L412.2 476.4 L412.6 475.8 L412.9 474.8 L413.3 475.1 L413.6 475.0 L414.0 474.6 L414.3 473.9 L414.6 474.0 L415.0 474.0 L415.3 473.6 L415.7 473.7 L416.0 473.1 L416.4 473.2 L416.7 472.7 L417.1 472.4 L417.4 472.3 L417.8 471.8 L418.1 472.2 L418.5 471.7 L418.8 471.6 L419.2 471.2 L419.6 471.2 L419.9 471.2 L420.3 471.6 L420.6 471.5 L421.0 470.3 L421.3 470.3 L421.7 470.5 L422.1 470.7 L422.4 471.1 L422.8 470.9 L423.2 471.7 L423.5 471.5 L423.9 471.9 L424.2 472.4 L424.6 473.2 L425.0 472.8 L425.3 473.7 L425.7 473.7 L426.1 474.9 L426.5 476.1 L426.9 477.5 L427.2 478.9 L427.6 479.9 L428.0 481.6 L428.4 482.0 L428.8 482.8 L429.2 483.3 L429.6 486.6 L429.9 486.0 L430.3 487.5 L430.7 489.0 L431.1 488.3 L431.5 491.8 L431.8 489.9 L432.2 491.2 L432.5 491.9 L432.9 490.6 L433.3 493.0 L433.6 494.6 L434.0 493.1 L434.3 490.7 L434.7 491.7 L435.1 492.5 L435.4 495.8 L435.8 497.2 L436.1 494.1 L436.5 497.8 L436.8 494.9 L437.2 495.6 L437.5 496.8 L437.9 496.9 L438.2 493.2 L438.6 498.3 L438.9 496.8 L439.3 495.8 L439.6 498.7 L440.0 505.7 L440.4 498.8 L440.8 499.8 L441.2 503.7 L441.5 501.5 L441.9 502.9 L442.3 495.9 L442.7 497.7" fill="none" stroke="#000" stroke-width="1.25" stroke-linejoin="round" stroke-linecap="round"/>
<path d="M443.6 488.1 L444.0 486.5 L444.3 483.7 L444.7 480.4 L445.0 477.4 L445.4 474.2 L445.8 470.6 L446.1 467.4 L446.5 463.9 L446.8 460.6 L447.2 457.7 L447.5 455.4 L447.9 453.4 L448.2 451.9 L448.6 449.6 L448.9 447.6 L449.3 445.8 L449.6 443.9 L450.0 442.1 L450.3 440.1 L450.7 438.1 L451.0 436.3 L451.4 433.9 L451.7 432.0 L452.1 430.5 L452.5 428.3 L452.9 426.2 L453.2 424.2 L453.6 422.3 L454.0 420.0 L454.4 417.5 L454.8 416.8 L455.1 416.2 L455.4 415.4 L455.8 414.3 L456.2 415.9 L456.5 417.8 L456.9 419.6 L457.2 421.6 L457.6 423.3 L458.1 434.1 L458.5 444.9 L458.9 462.9 L459.2 480.0 L459.8 513.0 L460.2 514.0 L460.5 510.6 L460.9 507.4 L461.2 514.0 L461.6 513.4 L462.1 480.3 L462.6 458.3 L463.0 435.8 L463.4 429.9 L463.8 424.1 L464.2 417.8 L464.6 416.8 L464.9 416.1 L465.3 414.9 L465.7 414.2 L466.0 413.2 L466.4 412.2 L466.8 414.0 L467.1 415.9 L467.5 417.8 L467.8 419.8 L468.2 421.3 L468.5 422.9 L468.9 424.9 L469.3 427.2 L469.6 429.0 L470.0 430.9 L470.4 432.9 L470.7 434.5 L471.1 436.8 L471.4 438.3 L471.8 440.5 L472.2 442.1 L472.5 443.5 L472.9 445.8 L473.2 447.4 L473.6 449.1 L474.0 450.7 L474.3 452.3 L474.7 454.1 L475.1 457.6 L475.5 461.0 L475.8 464.5 L476.2 467.8 L476.6 470.9 L477.0 474.2 L477.4 477.0 L477.7 479.8 L478.1 481.9 L478.5 486.2 L478.9 488.1 L479.3 489.8 L479.6 492.6 L480.0 490.7 L480.4 495.3 L480.9 492.6 L481.4 506.9 L481.9 496.9 L482.4 495.0 L482.7 495.5 L483.1 495.2 L483.4 492.1 L483.8 493.3 L484.1 491.9 L484.5 492.3 L484.8 491.8 L485.2 492.4 L485.5 494.2 L485.9 493.9 L486.2 491.8 L486.6 494.4 L486.9 493.1 L487.3 493.7 L487.6 493.0 L488.0 489.4 L488.4 489.3 L488.7 488.6 L489.1 490.6 L489.5 489.2 L489.8 486.9 L490.2 485.2 L490.6 482.6 L490.9 481.8 L491.3 480.5 L491.6 478.1 L492.0 477.1 L492.4 476.6 L492.7 476.2 L493.1 476.2 L493.4 475.5 L493.8 474.5 L494.1 474.4 L494.4 473.8 L494.8 473.6 L495.1 472.7 L495.5 472.1 L495.9 472.4 L496.2 472.6 L496.6 472.8 L496.9 473.3 L497.3 473.4 L497.6 473.3 L498.0 473.8 L498.4 473.7 L498.7 473.8 L499.1 473.8 L499.4 474.1 L499.8 474.1 L500.1 474.6 L500.5 474.7 L500.8 475.5 L501.2 476.1 L501.5 476.5 L501.9 477.2 L502.2 477.5 L502.6 477.9 L502.9 478.2 L503.3 479.0 L503.6 479.4 L504.0 480.1 L504.3 481.1 L504.7 482.9 L505.1 483.1 L505.4 484.4 L505.8 487.5 L506.1 488.3 L506.5 487.4 L506.9 487.1 L507.3 488.6 L507.6 489.7 L508.0 495.3 L508.4 496.3 L508.7 494.1 L509.1 496.5 L509.4 495.7 L509.8 493.6 L510.1 493.5 L510.4 498.4 L510.8 493.2 L511.1 495.9 L511.5 493.5 L511.8 494.5 L512.1 495.2 L512.5 495.4 L512.8 494.6 L513.2 493.3 L513.5 495.5 L513.8 494.3 L514.2 493.1 L514.5 491.9 L514.9 497.1 L515.2 495.8 L515.6 493.0 L515.9 494.8 L516.2 491.9 L516.6 497.1 L517.0 497.5 L517.3 500.0 L517.6 496.8 L518.0 497.8 L518.4 497.7 L518.7 498.7 L519.0 494.6 L519.4 492.4 L519.8 496.7 L520.1 498.7 L520.5 497.3 L520.8 491.6 L521.1 501.4 L521.5 495.5 L521.9 498.9 L522.2 494.7 L522.5 494.7 L522.9 500.4 L523.2 496.3 L523.6 499.7 L523.9 504.5 L524.3 496.0 L524.6 502.7 L525.0 499.5 L525.4 499.7 L525.7 499.6 L526.0 504.3 L526.4 503.6 L526.8 495.7 L527.1 498.6 L527.5 501.9 L527.8 504.2 L528.1 500.6 L528.5 501.3 L528.9 505.1 L529.2 500.7 L529.6 505.0 L529.9 503.2 L530.2 495.9 L530.6 503.6 L530.9 501.7 L531.3 503.6 L531.6 501.0 L532.0 503.9 L532.3 506.4 L532.6 504.1 L533.0 504.0 L533.3 500.8 L533.7 503.9 L534.0 504.0 L534.4 502.9 L534.7 499.7 L535.0 504.1 L535.4 505.2 L535.7 502.4 L536.1 498.0 L536.4 501.0 L536.7 505.5 L537.1 500.9 L537.4 502.5 L537.8 508.4 L538.1 503.7 L538.4 505.3 L538.8 502.5 L539.1 499.9 L539.5 508.3 L539.8 500.8 L540.2 502.8 L540.5 503.7 L540.8 507.5 L541.2 505.0 L541.5 508.5 L541.9 501.7 L542.2 505.0 L542.5 497.1 L542.9 507.6 L543.2 504.2 L543.6 503.9 L543.9 508.4 L544.2 505.1 L544.6 500.5 L544.9 504.6 L545.3 503.3 L545.6 505.5 L546.0 504.4 L546.3 507.7 L546.6 504.8 L547.0 502.5 L547.3 504.5 L547.7 499.0 L548.0 505.4 L548.3 504.5 L548.7 505.8 L549.0 505.4 L549.4 509.4 L549.7 502.3 L550.1 502.6 L550.4 500.3 L550.7 503.4 L551.1 501.9 L551.4 500.0 L551.8 503.5 L552.1 507.8 L552.5 504.1 L552.8 501.4 L553.1 503.6 L553.5 508.8 L553.8 507.9 L554.2 504.3 L554.5 505.7 L554.9 504.2 L555.2 502.2 L555.5 503.6 L555.9 504.5 L556.2 505.1 L556.6 504.5 L556.9 507.6 L557.3 504.9 L557.6 502.6 L557.9 508.3 L558.3 508.5 L558.6 508.4 L559.0 508.5 L559.3 500.3 L559.7 502.7 L560.0 502.0 L560.3 509.2 L560.7 499.0 L561.0 503.3 L561.4 503.0 L561.7 503.8 L562.1 505.3 L562.4 504.5 L562.7 505.0 L563.1 502.2 L563.4 502.1 L563.8 503.8 L564.1 502.8 L564.5 504.1 L564.8 505.2 L565.1 503.9 L565.5 495.6 L565.8 504.1 L566.2 503.1 L566.5 507.7 L566.9 509.8 L567.2 503.3 L567.5 502.5 L567.9 502.9 L568.2 509.0 L568.6 505.0 L568.9 504.4 L569.3 505.0 L569.6 501.4 L569.9 502.9 L570.3 508.8 L570.6 504.2 L571.0 501.9 L571.3 502.3 L571.7 500.9 L572.0 503.8 L572.4 504.9 L572.7 503.8 L573.0 508.2 L573.4 506.8 L573.8 503.4 L574.1 507.0 L574.5 502.4 L574.8 504.0 L575.1 507.3 L575.5 502.1 L575.9 506.8 L576.2 503.6 L576.5 506.4 L576.9 502.5 L577.2 502.8 L577.6 503.2 L578.0 499.3 L578.3 503.5 L578.6 502.0 L579.0 506.0 L579.4 495.6 L579.7 501.5 L580.1 500.9 L580.4 499.4 L580.8 501.5 L581.1 500.4 L581.5 501.1 L581.9 503.2 L582.2 500.5 L582.6 500.2 L582.9 500.6 L583.3 497.1 L583.6 498.1 L584.0 501.3 L584.3 496.6 L584.7 498.0 L585.0 495.0 L585.4 500.8 L585.7 498.5 L586.1 493.8 L586.4 493.9 L586.7 494.5 L587.1 492.6 L587.4 492.5 L587.8 496.2 L588.1 498.1 L588.5 496.5 L588.8 497.2 L589.1 490.0 L589.5 494.2 L589.8 493.8 L590.2 495.2 L590.5 492.0 L590.9 491.7 L591.2 492.1 L591.6 492.6 L591.9 491.8 L592.3 489.4 L592.6 493.1 L593.0 490.3 L593.3 492.7 L593.7 489.9 L594.0 490.5 L594.4 490.1 L594.8 490.1 L595.1 489.3 L595.5 488.4 L595.8 489.3 L596.2 488.3 L596.5 486.0 L596.9 488.8 L597.2 487.7 L597.6 486.8 L597.9 486.3 L598.3 486.6 L598.6 484.4 L599.0 485.0" fill="none" stroke="#000" stroke-width="1.25" stroke-linejoin="round" stroke-linecap="round"/>
<g fill="#000" shape-rendering="crispEdges">
<rect x="148" y="476" width="1" height="38"/>
<rect x="189" y="493" width="1" height="21"/>
<rect x="211" y="497" width="1" height="17"/>
<rect x="536" y="503" width="1" height="11"/>
<rect x="561" y="494" width="1" height="20"/>
<rect x="587" y="478" width="1" height="18"/>
</g>
</svg>
</body></html>
